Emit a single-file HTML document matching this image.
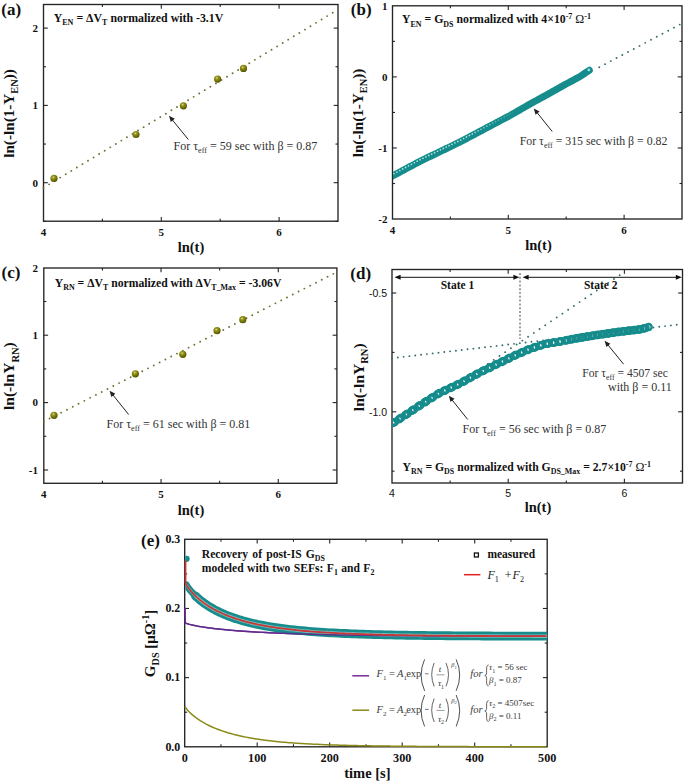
<!DOCTYPE html>
<html><head><meta charset="utf-8"><style>
html,body{margin:0;padding:0;background:#fff;width:685px;height:783px;overflow:hidden;}
svg{display:block;font-family:"Liberation Serif",serif;}
</style></head><body>
<svg width="685" height="783" viewBox="0 0 685 783"><defs><radialGradient id="gball" cx="0.4" cy="0.33" r="0.68"><stop offset="0" stop-color="#ecedb8"/><stop offset="0.2" stop-color="#a2a232"/><stop offset="0.55" stop-color="#7c7c08"/><stop offset="1" stop-color="#525200"/></radialGradient></defs>
<rect x="43.5" y="4.5" width="294.5" height="216.7" fill="none" stroke="#242424" stroke-width="1.35"/>
<line x1="161.30" y1="221.2" x2="161.30" y2="216.89999999999998" stroke="#242424" stroke-width="1.1"/>
<line x1="161.30" y1="4.5" x2="161.30" y2="8.8" stroke="#242424" stroke-width="1.1"/>
<line x1="279.10" y1="221.2" x2="279.10" y2="216.89999999999998" stroke="#242424" stroke-width="1.1"/>
<line x1="279.10" y1="4.5" x2="279.10" y2="8.8" stroke="#242424" stroke-width="1.1"/>
<line x1="102.40" y1="221.2" x2="102.40" y2="218.7" stroke="#242424" stroke-width="1.1"/>
<line x1="102.40" y1="4.5" x2="102.40" y2="7.0" stroke="#242424" stroke-width="1.1"/>
<line x1="220.20" y1="221.2" x2="220.20" y2="218.7" stroke="#242424" stroke-width="1.1"/>
<line x1="220.20" y1="4.5" x2="220.20" y2="7.0" stroke="#242424" stroke-width="1.1"/>
<line x1="43.5" y1="182.70" x2="47.8" y2="182.70" stroke="#242424" stroke-width="1.1"/>
<line x1="338" y1="182.70" x2="333.7" y2="182.70" stroke="#242424" stroke-width="1.1"/>
<line x1="43.5" y1="105.40" x2="47.8" y2="105.40" stroke="#242424" stroke-width="1.1"/>
<line x1="338" y1="105.40" x2="333.7" y2="105.40" stroke="#242424" stroke-width="1.1"/>
<line x1="43.5" y1="28.10" x2="47.8" y2="28.10" stroke="#242424" stroke-width="1.1"/>
<line x1="338" y1="28.10" x2="333.7" y2="28.10" stroke="#242424" stroke-width="1.1"/>
<line x1="43.5" y1="221.35" x2="46.0" y2="221.35" stroke="#242424" stroke-width="1.1"/>
<line x1="338" y1="221.35" x2="335.5" y2="221.35" stroke="#242424" stroke-width="1.1"/>
<line x1="43.5" y1="144.05" x2="46.0" y2="144.05" stroke="#242424" stroke-width="1.1"/>
<line x1="338" y1="144.05" x2="335.5" y2="144.05" stroke="#242424" stroke-width="1.1"/>
<line x1="43.5" y1="66.75" x2="46.0" y2="66.75" stroke="#242424" stroke-width="1.1"/>
<line x1="338" y1="66.75" x2="335.5" y2="66.75" stroke="#242424" stroke-width="1.1"/>
<text x="43.5" y="235.6" font-family="Liberation Serif, serif" font-size="11" font-weight="bold" text-anchor="middle" fill="#111" ><tspan dy="0.00" font-size="11.00" >4</tspan></text>
<text x="161.3" y="235.6" font-family="Liberation Serif, serif" font-size="11" font-weight="bold" text-anchor="middle" fill="#111" ><tspan dy="0.00" font-size="11.00" >5</tspan></text>
<text x="279.1" y="235.6" font-family="Liberation Serif, serif" font-size="11" font-weight="bold" text-anchor="middle" fill="#111" ><tspan dy="0.00" font-size="11.00" >6</tspan></text>
<text x="38" y="186.5" font-family="Liberation Serif, serif" font-size="11" font-weight="bold" text-anchor="end" fill="#111" ><tspan dy="0.00" font-size="11.00" >0</tspan></text>
<text x="38" y="109.19999999999999" font-family="Liberation Serif, serif" font-size="11" font-weight="bold" text-anchor="end" fill="#111" ><tspan dy="0.00" font-size="11.00" >1</tspan></text>
<text x="38" y="31.899999999999995" font-family="Liberation Serif, serif" font-size="11" font-weight="bold" text-anchor="end" fill="#111" ><tspan dy="0.00" font-size="11.00" >2</tspan></text>
<text x="1.3" y="14.5" font-family="Liberation Serif, serif" font-size="17" font-weight="bold" text-anchor="start" fill="#111" ><tspan dy="0.00" font-size="17.00" >(a)</tspan></text>
<text x="191" y="251.5" font-family="Liberation Serif, serif" font-size="14.5" font-weight="bold" text-anchor="middle" fill="#111" ><tspan dy="0.00" font-size="14.50" >ln(t)</tspan></text>
<text x="0" y="0" font-family="Liberation Serif, serif" font-size="15.2" font-weight="bold" text-anchor="middle" fill="#111" transform="translate(13.6,113.5) rotate(-90)"><tspan dy="0.00" font-size="15.20" >ln(-ln(1-Y</tspan><tspan dy="4.26" font-size="10.34" >EN</tspan><tspan dy="-4.26" font-size="15.20" >))</tspan></text>
<circle cx="43.50" cy="187.70" r="0.95" fill="#6e6e30"/>
<circle cx="49.06" cy="184.34" r="0.95" fill="#6e6e30"/>
<circle cx="54.62" cy="180.97" r="0.95" fill="#6e6e30"/>
<circle cx="60.18" cy="177.61" r="0.95" fill="#6e6e30"/>
<circle cx="65.75" cy="174.24" r="0.95" fill="#6e6e30"/>
<circle cx="71.31" cy="170.88" r="0.95" fill="#6e6e30"/>
<circle cx="76.87" cy="167.51" r="0.95" fill="#6e6e30"/>
<circle cx="82.43" cy="164.15" r="0.95" fill="#6e6e30"/>
<circle cx="87.99" cy="160.79" r="0.95" fill="#6e6e30"/>
<circle cx="93.55" cy="157.42" r="0.95" fill="#6e6e30"/>
<circle cx="99.12" cy="154.06" r="0.95" fill="#6e6e30"/>
<circle cx="104.68" cy="150.69" r="0.95" fill="#6e6e30"/>
<circle cx="110.24" cy="147.33" r="0.95" fill="#6e6e30"/>
<circle cx="115.80" cy="143.96" r="0.95" fill="#6e6e30"/>
<circle cx="121.36" cy="140.60" r="0.95" fill="#6e6e30"/>
<circle cx="126.92" cy="137.24" r="0.95" fill="#6e6e30"/>
<circle cx="132.49" cy="133.87" r="0.95" fill="#6e6e30"/>
<circle cx="138.05" cy="130.51" r="0.95" fill="#6e6e30"/>
<circle cx="143.61" cy="127.14" r="0.95" fill="#6e6e30"/>
<circle cx="149.17" cy="123.78" r="0.95" fill="#6e6e30"/>
<circle cx="154.73" cy="120.41" r="0.95" fill="#6e6e30"/>
<circle cx="160.29" cy="117.05" r="0.95" fill="#6e6e30"/>
<circle cx="165.86" cy="113.69" r="0.95" fill="#6e6e30"/>
<circle cx="171.42" cy="110.32" r="0.95" fill="#6e6e30"/>
<circle cx="176.98" cy="106.96" r="0.95" fill="#6e6e30"/>
<circle cx="182.54" cy="103.59" r="0.95" fill="#6e6e30"/>
<circle cx="188.10" cy="100.23" r="0.95" fill="#6e6e30"/>
<circle cx="193.66" cy="96.86" r="0.95" fill="#6e6e30"/>
<circle cx="199.23" cy="93.50" r="0.95" fill="#6e6e30"/>
<circle cx="204.79" cy="90.14" r="0.95" fill="#6e6e30"/>
<circle cx="210.35" cy="86.77" r="0.95" fill="#6e6e30"/>
<circle cx="215.91" cy="83.41" r="0.95" fill="#6e6e30"/>
<circle cx="221.47" cy="80.04" r="0.95" fill="#6e6e30"/>
<circle cx="227.03" cy="76.68" r="0.95" fill="#6e6e30"/>
<circle cx="232.59" cy="73.31" r="0.95" fill="#6e6e30"/>
<circle cx="238.16" cy="69.95" r="0.95" fill="#6e6e30"/>
<circle cx="243.72" cy="66.59" r="0.95" fill="#6e6e30"/>
<circle cx="249.28" cy="63.22" r="0.95" fill="#6e6e30"/>
<circle cx="254.84" cy="59.86" r="0.95" fill="#6e6e30"/>
<circle cx="260.40" cy="56.49" r="0.95" fill="#6e6e30"/>
<circle cx="265.96" cy="53.13" r="0.95" fill="#6e6e30"/>
<circle cx="271.53" cy="49.76" r="0.95" fill="#6e6e30"/>
<circle cx="277.09" cy="46.40" r="0.95" fill="#6e6e30"/>
<circle cx="282.65" cy="43.04" r="0.95" fill="#6e6e30"/>
<circle cx="288.21" cy="39.67" r="0.95" fill="#6e6e30"/>
<circle cx="293.77" cy="36.31" r="0.95" fill="#6e6e30"/>
<circle cx="299.33" cy="32.94" r="0.95" fill="#6e6e30"/>
<circle cx="304.90" cy="29.58" r="0.95" fill="#6e6e30"/>
<circle cx="310.46" cy="26.21" r="0.95" fill="#6e6e30"/>
<circle cx="316.02" cy="22.85" r="0.95" fill="#6e6e30"/>
<circle cx="321.58" cy="19.49" r="0.95" fill="#6e6e30"/>
<circle cx="327.14" cy="16.12" r="0.95" fill="#6e6e30"/>
<circle cx="332.70" cy="12.76" r="0.95" fill="#6e6e30"/>
<circle cx="54" cy="178.4" r="3.6" fill="url(#gball)"/>
<circle cx="136" cy="134.5" r="3.6" fill="url(#gball)"/>
<circle cx="183.4" cy="105.8" r="3.6" fill="url(#gball)"/>
<circle cx="217.6" cy="79.1" r="3.6" fill="url(#gball)"/>
<circle cx="243.5" cy="68.4" r="3.6" fill="url(#gball)"/>
<line x1="188.3" y1="139.5" x2="172.16" y2="119.68" stroke="#222" stroke-width="1.0"/>
<polygon points="169,115.8 174.80,118.81 170.77,122.09" fill="#222"/>
<text x="173.6" y="149.9" font-family="Liberation Serif, serif" font-size="12" font-weight="normal" text-anchor="start" fill="#333" ><tspan dy="0.00" font-size="12.00" >For </tspan><tspan dy="0.00" font-size="12.00" >τ</tspan><tspan dy="3.36" font-size="8.16" >eff</tspan><tspan dy="-3.36" font-size="12.00" > = 59 sec with β = 0.87</tspan></text>
<text x="53.7" y="22.1" font-family="Liberation Serif, serif" font-size="11.85" font-weight="bold" text-anchor="start" fill="#111" ><tspan dy="0.00" font-size="11.85" >Y</tspan><tspan dy="3.32" font-size="8.06" >EN</tspan><tspan dy="-3.32" font-size="11.85" > = ΔV</tspan><tspan dy="3.32" font-size="8.06" >T</tspan><tspan dy="-3.32" font-size="11.85" > normalized with -3.1V</tspan></text>
<rect x="392.5" y="5.8" width="289.5" height="213.2" fill="none" stroke="#242424" stroke-width="1.35"/>
<line x1="508.30" y1="219" x2="508.30" y2="214.7" stroke="#242424" stroke-width="1.1"/>
<line x1="508.30" y1="5.8" x2="508.30" y2="10.1" stroke="#242424" stroke-width="1.1"/>
<line x1="624.10" y1="219" x2="624.10" y2="214.7" stroke="#242424" stroke-width="1.1"/>
<line x1="624.10" y1="5.8" x2="624.10" y2="10.1" stroke="#242424" stroke-width="1.1"/>
<line x1="450.40" y1="219" x2="450.40" y2="216.5" stroke="#242424" stroke-width="1.1"/>
<line x1="450.40" y1="5.8" x2="450.40" y2="8.3" stroke="#242424" stroke-width="1.1"/>
<line x1="566.20" y1="219" x2="566.20" y2="216.5" stroke="#242424" stroke-width="1.1"/>
<line x1="566.20" y1="5.8" x2="566.20" y2="8.3" stroke="#242424" stroke-width="1.1"/>
<line x1="392.5" y1="76.90" x2="396.8" y2="76.90" stroke="#242424" stroke-width="1.1"/>
<line x1="682" y1="76.90" x2="677.7" y2="76.90" stroke="#242424" stroke-width="1.1"/>
<line x1="392.5" y1="147.97" x2="396.8" y2="147.97" stroke="#242424" stroke-width="1.1"/>
<line x1="682" y1="147.97" x2="677.7" y2="147.97" stroke="#242424" stroke-width="1.1"/>
<line x1="392.5" y1="41.37" x2="395.0" y2="41.37" stroke="#242424" stroke-width="1.1"/>
<line x1="682" y1="41.37" x2="679.5" y2="41.37" stroke="#242424" stroke-width="1.1"/>
<line x1="392.5" y1="112.44" x2="395.0" y2="112.44" stroke="#242424" stroke-width="1.1"/>
<line x1="682" y1="112.44" x2="679.5" y2="112.44" stroke="#242424" stroke-width="1.1"/>
<line x1="392.5" y1="183.50" x2="395.0" y2="183.50" stroke="#242424" stroke-width="1.1"/>
<line x1="682" y1="183.50" x2="679.5" y2="183.50" stroke="#242424" stroke-width="1.1"/>
<text x="392.5" y="233.6" font-family="Liberation Serif, serif" font-size="11" font-weight="bold" text-anchor="middle" fill="#111" ><tspan dy="0.00" font-size="11.00" >4</tspan></text>
<text x="508.3" y="233.6" font-family="Liberation Serif, serif" font-size="11" font-weight="bold" text-anchor="middle" fill="#111" ><tspan dy="0.00" font-size="11.00" >5</tspan></text>
<text x="624.1" y="233.6" font-family="Liberation Serif, serif" font-size="11" font-weight="bold" text-anchor="middle" fill="#111" ><tspan dy="0.00" font-size="11.00" >6</tspan></text>
<text x="387.5" y="9.630000000000013" font-family="Liberation Serif, serif" font-size="11" font-weight="bold" text-anchor="end" fill="#111" ><tspan dy="0.00" font-size="11.00" >1</tspan></text>
<text x="387.5" y="80.7" font-family="Liberation Serif, serif" font-size="11" font-weight="bold" text-anchor="end" fill="#111" ><tspan dy="0.00" font-size="11.00" >0</tspan></text>
<text x="387.5" y="151.77" font-family="Liberation Serif, serif" font-size="11" font-weight="bold" text-anchor="end" fill="#111" ><tspan dy="0.00" font-size="11.00" >-1</tspan></text>
<text x="387.5" y="222.84" font-family="Liberation Serif, serif" font-size="11" font-weight="bold" text-anchor="end" fill="#111" ><tspan dy="0.00" font-size="11.00" >-2</tspan></text>
<text x="350.8" y="15" font-family="Liberation Serif, serif" font-size="17" font-weight="bold" text-anchor="start" fill="#111" ><tspan dy="0.00" font-size="17.00" >(b)</tspan></text>
<text x="538.5" y="249.5" font-family="Liberation Serif, serif" font-size="14.5" font-weight="bold" text-anchor="middle" fill="#111" ><tspan dy="0.00" font-size="14.50" >ln(t)</tspan></text>
<text x="0" y="0" font-family="Liberation Serif, serif" font-size="15.2" font-weight="bold" text-anchor="middle" fill="#111" transform="translate(363.1,113) rotate(-90)"><tspan dy="0.00" font-size="15.20" >ln(-ln(1-Y</tspan><tspan dy="4.26" font-size="10.34" >EN</tspan><tspan dy="-4.26" font-size="15.20" >))</tspan></text>
<circle cx="599.30" cy="67.20" r="0.95" fill="#356a6a"/>
<circle cx="605.04" cy="64.16" r="0.95" fill="#356a6a"/>
<circle cx="610.79" cy="61.12" r="0.95" fill="#356a6a"/>
<circle cx="616.53" cy="58.07" r="0.95" fill="#356a6a"/>
<circle cx="622.28" cy="55.03" r="0.95" fill="#356a6a"/>
<circle cx="628.02" cy="51.99" r="0.95" fill="#356a6a"/>
<circle cx="633.76" cy="48.95" r="0.95" fill="#356a6a"/>
<circle cx="639.51" cy="45.90" r="0.95" fill="#356a6a"/>
<circle cx="645.25" cy="42.86" r="0.95" fill="#356a6a"/>
<circle cx="651.00" cy="39.82" r="0.95" fill="#356a6a"/>
<circle cx="656.74" cy="36.78" r="0.95" fill="#356a6a"/>
<circle cx="662.49" cy="33.74" r="0.95" fill="#356a6a"/>
<circle cx="668.23" cy="30.69" r="0.95" fill="#356a6a"/>
<circle cx="673.97" cy="27.65" r="0.95" fill="#356a6a"/>
<circle cx="679.72" cy="24.61" r="0.95" fill="#356a6a"/>
<clipPath id="clipB"><rect x="393" y="5" width="290" height="215"/></clipPath><g clip-path="url(#clipB)">
<polyline points="390,177.30 392.50,176.00 394.50,174.93 396.50,173.86 398.50,172.79 400.50,171.72 402.50,170.65 404.50,169.59 406.50,168.52 408.50,167.45 410.50,166.38 412.50,165.31 414.50,164.24 416.50,163.17 418.50,162.10 420.50,161.06 422.50,160.09 424.50,159.13 426.50,158.16 428.50,157.20 430.50,156.23 432.50,155.27 434.50,154.30 436.50,153.34 438.50,152.37 440.50,151.41 442.50,150.44 444.50,149.48 446.50,148.51 448.50,147.55 450.50,146.58 452.50,145.62 454.50,144.65 456.50,143.69 458.50,142.72 460.50,141.74 462.50,140.68 464.50,139.62 466.50,138.56 468.50,137.50 470.50,136.44 472.50,135.38 474.50,134.31 476.50,133.25 478.50,132.19 480.50,131.13 482.50,130.07 484.50,129.01 486.50,127.95 488.50,126.89 490.50,125.84 492.50,124.78 494.50,123.72 496.50,122.66 498.50,121.59 500.50,120.53 502.50,119.47 504.50,118.41 506.50,117.36 508.50,116.30 510.50,115.21 512.50,114.06 514.50,112.91 516.50,111.76 518.50,110.61 520.50,109.46 522.50,108.31 524.50,107.16 526.50,106.01 528.50,104.86 530.50,103.73 532.50,102.63 534.50,101.54 536.50,100.45 538.50,99.35 540.50,98.26 542.50,97.17 544.50,96.07 546.50,94.96 548.50,93.84 550.50,92.72 552.50,91.60 554.50,90.48 556.50,89.36 558.50,88.24 560.50,87.12 562.50,86.00 564.50,84.88 566.50,83.79 568.50,82.71 570.50,81.63 572.50,80.55 574.50,79.47 576.50,78.39 578.50,77.31 580.50,76.17 582.50,74.83 584.50,73.50 586.50,72.17 588.50,70.83 589.3,70.3" fill="none" stroke="#168c8c" stroke-width="7.0" stroke-linecap="round" stroke-linejoin="round"/>
<circle cx="394.00" cy="173.60" r="0.85" fill="#b4e4e4" opacity="1.00"/>
<circle cx="396.90" cy="172.05" r="0.85" fill="#b4e4e4" opacity="1.00"/>
<circle cx="399.80" cy="170.50" r="0.85" fill="#b4e4e4" opacity="1.00"/>
<circle cx="402.70" cy="168.95" r="0.85" fill="#b4e4e4" opacity="1.00"/>
<circle cx="405.60" cy="167.40" r="0.85" fill="#b4e4e4" opacity="1.00"/>
<circle cx="408.50" cy="165.85" r="0.85" fill="#b4e4e4" opacity="1.00"/>
<circle cx="411.40" cy="164.30" r="0.85" fill="#b4e4e4" opacity="1.00"/>
<circle cx="414.30" cy="162.75" r="0.85" fill="#b4e4e4" opacity="1.00"/>
<circle cx="417.20" cy="161.20" r="0.85" fill="#b4e4e4" opacity="1.00"/>
<circle cx="420.10" cy="159.65" r="0.85" fill="#b4e4e4" opacity="1.00"/>
<circle cx="423.00" cy="158.25" r="0.85" fill="#b4e4e4" opacity="1.00"/>
<circle cx="425.90" cy="156.85" r="0.85" fill="#b4e4e4" opacity="1.00"/>
<circle cx="428.80" cy="155.45" r="0.85" fill="#b4e4e4" opacity="1.00"/>
<circle cx="431.70" cy="154.05" r="0.85" fill="#b4e4e4" opacity="1.00"/>
<circle cx="434.60" cy="152.66" r="0.85" fill="#b4e4e4" opacity="1.00"/>
<circle cx="437.50" cy="151.26" r="0.85" fill="#b4e4e4" opacity="1.00"/>
<circle cx="440.40" cy="149.86" r="0.85" fill="#b4e4e4" opacity="1.00"/>
<circle cx="443.30" cy="148.46" r="0.85" fill="#b4e4e4" opacity="1.00"/>
<circle cx="446.20" cy="147.06" r="0.85" fill="#b4e4e4" opacity="1.00"/>
<circle cx="449.10" cy="145.66" r="0.85" fill="#b4e4e4" opacity="1.00"/>
<circle cx="452.00" cy="144.26" r="0.85" fill="#b4e4e4" opacity="1.00"/>
<circle cx="454.90" cy="142.86" r="0.85" fill="#b4e4e4" opacity="1.00"/>
<circle cx="457.80" cy="141.46" r="0.85" fill="#b4e4e4" opacity="1.00"/>
<circle cx="460.70" cy="140.03" r="0.85" fill="#b4e4e4" opacity="1.00"/>
<circle cx="463.60" cy="138.49" r="0.85" fill="#b4e4e4" opacity="1.00"/>
<circle cx="466.50" cy="136.96" r="0.85" fill="#b4e4e4" opacity="1.00"/>
<circle cx="469.40" cy="135.42" r="0.85" fill="#b4e4e4" opacity="1.00"/>
<circle cx="472.30" cy="133.88" r="0.85" fill="#b4e4e4" opacity="0.95"/>
<circle cx="475.20" cy="132.34" r="0.85" fill="#b4e4e4" opacity="0.90"/>
<circle cx="478.10" cy="130.81" r="0.85" fill="#b4e4e4" opacity="0.84"/>
<circle cx="481.00" cy="129.27" r="0.85" fill="#b4e4e4" opacity="0.78"/>
<circle cx="483.90" cy="127.73" r="0.85" fill="#b4e4e4" opacity="0.72"/>
<circle cx="486.80" cy="126.20" r="0.85" fill="#b4e4e4" opacity="0.66"/>
<circle cx="489.70" cy="124.66" r="0.85" fill="#b4e4e4" opacity="0.61"/>
<circle cx="492.60" cy="123.12" r="0.85" fill="#b4e4e4" opacity="0.55"/>
<circle cx="495.50" cy="121.59" r="0.85" fill="#b4e4e4" opacity="0.49"/>
<circle cx="498.40" cy="120.05" r="0.85" fill="#b4e4e4" opacity="0.43"/>
<circle cx="501.30" cy="118.51" r="0.85" fill="#b4e4e4" opacity="0.37"/>
<circle cx="504.20" cy="116.97" r="0.85" fill="#b4e4e4" opacity="0.32"/>
<circle cx="507.10" cy="115.44" r="0.85" fill="#b4e4e4" opacity="0.26"/>
<circle cx="510.00" cy="113.90" r="0.85" fill="#b4e4e4" opacity="0.20"/>
<circle cx="512.90" cy="112.23" r="0.85" fill="#b4e4e4" opacity="0.14"/>
<circle cx="515.80" cy="110.57" r="0.85" fill="#b4e4e4" opacity="0.08"/>
<circle cx="518.70" cy="108.90" r="0.85" fill="#b4e4e4" opacity="0.03"/>
</g>
<circle cx="588.8" cy="69.9" r="1.3" fill="#a8e2e2"/>
<line x1="552.2" y1="131.5" x2="536.92" y2="112.40" stroke="#222" stroke-width="1.0"/>
<polygon points="533.8,108.5 539.58,111.56 535.52,114.81" fill="#222"/>
<text x="519.7" y="144.7" font-family="Liberation Serif, serif" font-size="11.85" font-weight="normal" text-anchor="start" fill="#333" ><tspan dy="0.00" font-size="11.85" >For </tspan><tspan dy="0.00" font-size="11.85" >τ</tspan><tspan dy="3.32" font-size="8.06" >eff</tspan><tspan dy="-3.32" font-size="11.85" > = 315 sec with β = 0.82</tspan></text>
<text x="402" y="23.4" font-family="Liberation Serif, serif" font-size="11.75" font-weight="bold" text-anchor="start" fill="#111" ><tspan dy="0.00" font-size="11.75" >Y</tspan><tspan dy="3.29" font-size="7.99" >EN</tspan><tspan dy="-3.29" font-size="11.75" > = G</tspan><tspan dy="3.29" font-size="7.99" >DS</tspan><tspan dy="-3.29" font-size="11.75" > normalized with 4×10</tspan><tspan dy="-4.46" font-size="7.99" >-7</tspan><tspan dy="4.46" font-size="12.00" font-weight="normal"> Ω</tspan><tspan dy="-4.46" font-size="7.99" >-1</tspan></text>
<rect x="43.8" y="268" width="293.09999999999997" height="215.3" fill="none" stroke="#242424" stroke-width="1.35"/>
<line x1="161.04" y1="483.3" x2="161.04" y2="479.0" stroke="#242424" stroke-width="1.1"/>
<line x1="161.04" y1="268" x2="161.04" y2="272.3" stroke="#242424" stroke-width="1.1"/>
<line x1="278.28" y1="483.3" x2="278.28" y2="479.0" stroke="#242424" stroke-width="1.1"/>
<line x1="278.28" y1="268" x2="278.28" y2="272.3" stroke="#242424" stroke-width="1.1"/>
<line x1="102.42" y1="483.3" x2="102.42" y2="480.8" stroke="#242424" stroke-width="1.1"/>
<line x1="102.42" y1="268" x2="102.42" y2="270.5" stroke="#242424" stroke-width="1.1"/>
<line x1="219.66" y1="483.3" x2="219.66" y2="480.8" stroke="#242424" stroke-width="1.1"/>
<line x1="219.66" y1="268" x2="219.66" y2="270.5" stroke="#242424" stroke-width="1.1"/>
<line x1="43.8" y1="335.20" x2="48.099999999999994" y2="335.20" stroke="#242424" stroke-width="1.1"/>
<line x1="336.9" y1="335.20" x2="332.59999999999997" y2="335.20" stroke="#242424" stroke-width="1.1"/>
<line x1="43.8" y1="402.60" x2="48.099999999999994" y2="402.60" stroke="#242424" stroke-width="1.1"/>
<line x1="336.9" y1="402.60" x2="332.59999999999997" y2="402.60" stroke="#242424" stroke-width="1.1"/>
<line x1="43.8" y1="470.00" x2="48.099999999999994" y2="470.00" stroke="#242424" stroke-width="1.1"/>
<line x1="336.9" y1="470.00" x2="332.59999999999997" y2="470.00" stroke="#242424" stroke-width="1.1"/>
<line x1="43.8" y1="301.50" x2="46.3" y2="301.50" stroke="#242424" stroke-width="1.1"/>
<line x1="336.9" y1="301.50" x2="334.4" y2="301.50" stroke="#242424" stroke-width="1.1"/>
<line x1="43.8" y1="368.90" x2="46.3" y2="368.90" stroke="#242424" stroke-width="1.1"/>
<line x1="336.9" y1="368.90" x2="334.4" y2="368.90" stroke="#242424" stroke-width="1.1"/>
<line x1="43.8" y1="436.30" x2="46.3" y2="436.30" stroke="#242424" stroke-width="1.1"/>
<line x1="336.9" y1="436.30" x2="334.4" y2="436.30" stroke="#242424" stroke-width="1.1"/>
<text x="43.8" y="497.5" font-family="Liberation Serif, serif" font-size="11" font-weight="bold" text-anchor="middle" fill="#111" ><tspan dy="0.00" font-size="11.00" >4</tspan></text>
<text x="161.03999999999996" y="497.5" font-family="Liberation Serif, serif" font-size="11" font-weight="bold" text-anchor="middle" fill="#111" ><tspan dy="0.00" font-size="11.00" >5</tspan></text>
<text x="278.28" y="497.5" font-family="Liberation Serif, serif" font-size="11" font-weight="bold" text-anchor="middle" fill="#111" ><tspan dy="0.00" font-size="11.00" >6</tspan></text>
<text x="38" y="271.6" font-family="Liberation Serif, serif" font-size="11" font-weight="bold" text-anchor="end" fill="#111" ><tspan dy="0.00" font-size="11.00" >2</tspan></text>
<text x="38" y="339.00000000000006" font-family="Liberation Serif, serif" font-size="11" font-weight="bold" text-anchor="end" fill="#111" ><tspan dy="0.00" font-size="11.00" >1</tspan></text>
<text x="38" y="406.40000000000003" font-family="Liberation Serif, serif" font-size="11" font-weight="bold" text-anchor="end" fill="#111" ><tspan dy="0.00" font-size="11.00" >0</tspan></text>
<text x="38" y="473.8" font-family="Liberation Serif, serif" font-size="11" font-weight="bold" text-anchor="end" fill="#111" ><tspan dy="0.00" font-size="11.00" >-1</tspan></text>
<text x="1.5" y="278" font-family="Liberation Serif, serif" font-size="17" font-weight="bold" text-anchor="start" fill="#111" ><tspan dy="0.00" font-size="17.00" >(c)</tspan></text>
<text x="191" y="514.5" font-family="Liberation Serif, serif" font-size="14.5" font-weight="bold" text-anchor="middle" fill="#111" ><tspan dy="0.00" font-size="14.50" >ln(t)</tspan></text>
<text x="0" y="0" font-family="Liberation Serif, serif" font-size="15.5" font-weight="bold" text-anchor="middle" fill="#111" transform="translate(14.3,376.1) rotate(-90)"><tspan dy="0.00" font-size="15.50" >ln(-lnY</tspan><tspan dy="4.34" font-size="10.54" >RN</tspan><tspan dy="-4.34" font-size="15.50" >)</tspan></text>
<circle cx="43.80" cy="421.50" r="0.95" fill="#6e6e30"/>
<circle cx="49.59" cy="418.55" r="0.95" fill="#6e6e30"/>
<circle cx="55.38" cy="415.59" r="0.95" fill="#6e6e30"/>
<circle cx="61.17" cy="412.64" r="0.95" fill="#6e6e30"/>
<circle cx="66.96" cy="409.69" r="0.95" fill="#6e6e30"/>
<circle cx="72.75" cy="406.73" r="0.95" fill="#6e6e30"/>
<circle cx="78.54" cy="403.78" r="0.95" fill="#6e6e30"/>
<circle cx="84.33" cy="400.83" r="0.95" fill="#6e6e30"/>
<circle cx="90.12" cy="397.87" r="0.95" fill="#6e6e30"/>
<circle cx="95.91" cy="394.92" r="0.95" fill="#6e6e30"/>
<circle cx="101.70" cy="391.97" r="0.95" fill="#6e6e30"/>
<circle cx="107.49" cy="389.02" r="0.95" fill="#6e6e30"/>
<circle cx="113.28" cy="386.06" r="0.95" fill="#6e6e30"/>
<circle cx="119.08" cy="383.11" r="0.95" fill="#6e6e30"/>
<circle cx="124.87" cy="380.16" r="0.95" fill="#6e6e30"/>
<circle cx="130.66" cy="377.20" r="0.95" fill="#6e6e30"/>
<circle cx="136.45" cy="374.25" r="0.95" fill="#6e6e30"/>
<circle cx="142.24" cy="371.30" r="0.95" fill="#6e6e30"/>
<circle cx="148.03" cy="368.34" r="0.95" fill="#6e6e30"/>
<circle cx="153.82" cy="365.39" r="0.95" fill="#6e6e30"/>
<circle cx="159.61" cy="362.44" r="0.95" fill="#6e6e30"/>
<circle cx="165.40" cy="359.48" r="0.95" fill="#6e6e30"/>
<circle cx="171.19" cy="356.53" r="0.95" fill="#6e6e30"/>
<circle cx="176.98" cy="353.58" r="0.95" fill="#6e6e30"/>
<circle cx="182.77" cy="350.62" r="0.95" fill="#6e6e30"/>
<circle cx="188.56" cy="347.67" r="0.95" fill="#6e6e30"/>
<circle cx="194.35" cy="344.72" r="0.95" fill="#6e6e30"/>
<circle cx="200.14" cy="341.76" r="0.95" fill="#6e6e30"/>
<circle cx="205.93" cy="338.81" r="0.95" fill="#6e6e30"/>
<circle cx="211.72" cy="335.86" r="0.95" fill="#6e6e30"/>
<circle cx="217.51" cy="332.91" r="0.95" fill="#6e6e30"/>
<circle cx="223.30" cy="329.95" r="0.95" fill="#6e6e30"/>
<circle cx="229.09" cy="327.00" r="0.95" fill="#6e6e30"/>
<circle cx="234.88" cy="324.05" r="0.95" fill="#6e6e30"/>
<circle cx="240.67" cy="321.09" r="0.95" fill="#6e6e30"/>
<circle cx="246.46" cy="318.14" r="0.95" fill="#6e6e30"/>
<circle cx="252.25" cy="315.19" r="0.95" fill="#6e6e30"/>
<circle cx="258.05" cy="312.23" r="0.95" fill="#6e6e30"/>
<circle cx="263.84" cy="309.28" r="0.95" fill="#6e6e30"/>
<circle cx="269.63" cy="306.33" r="0.95" fill="#6e6e30"/>
<circle cx="275.42" cy="303.37" r="0.95" fill="#6e6e30"/>
<circle cx="281.21" cy="300.42" r="0.95" fill="#6e6e30"/>
<circle cx="287.00" cy="297.47" r="0.95" fill="#6e6e30"/>
<circle cx="292.79" cy="294.51" r="0.95" fill="#6e6e30"/>
<circle cx="298.58" cy="291.56" r="0.95" fill="#6e6e30"/>
<circle cx="304.37" cy="288.61" r="0.95" fill="#6e6e30"/>
<circle cx="310.16" cy="285.66" r="0.95" fill="#6e6e30"/>
<circle cx="315.95" cy="282.70" r="0.95" fill="#6e6e30"/>
<circle cx="321.74" cy="279.75" r="0.95" fill="#6e6e30"/>
<circle cx="327.53" cy="276.80" r="0.95" fill="#6e6e30"/>
<circle cx="333.32" cy="273.84" r="0.95" fill="#6e6e30"/>
<circle cx="54" cy="415.3" r="3.6" fill="url(#gball)"/>
<circle cx="135.4" cy="373.8" r="3.6" fill="url(#gball)"/>
<circle cx="182.8" cy="354.3" r="3.6" fill="url(#gball)"/>
<circle cx="217" cy="330.7" r="3.6" fill="url(#gball)"/>
<circle cx="242.8" cy="319.7" r="3.6" fill="url(#gball)"/>
<line x1="128.6" y1="414.5" x2="112.73" y2="394.70" stroke="#222" stroke-width="1.0"/>
<polygon points="109.6,390.8 115.38,393.86 111.32,397.11" fill="#222"/>
<text x="106.6" y="427.8" font-family="Liberation Serif, serif" font-size="12" font-weight="normal" text-anchor="start" fill="#333" ><tspan dy="0.00" font-size="12.00" >For </tspan><tspan dy="0.00" font-size="12.00" >τ</tspan><tspan dy="3.36" font-size="8.16" >eff</tspan><tspan dy="-3.36" font-size="12.00" > = 61 sec with β = 0.81</tspan></text>
<text x="54.7" y="286.5" font-family="Liberation Serif, serif" font-size="11.7" font-weight="bold" text-anchor="start" fill="#111" ><tspan dy="0.00" font-size="11.70" >Y</tspan><tspan dy="3.28" font-size="7.96" >RN</tspan><tspan dy="-3.28" font-size="11.70" > = ΔV</tspan><tspan dy="3.28" font-size="7.96" >T</tspan><tspan dy="-3.28" font-size="11.70" > normalized with ΔV</tspan><tspan dy="3.28" font-size="7.96" >T_Max</tspan><tspan dy="-3.28" font-size="11.70" > = -3.06V</tspan></text>
<rect x="392" y="269.5" width="290.5" height="213.5" fill="none" stroke="#242424" stroke-width="1.35"/>
<line x1="508.20" y1="483" x2="508.20" y2="478.7" stroke="#242424" stroke-width="1.1"/>
<line x1="508.20" y1="269.5" x2="508.20" y2="273.8" stroke="#242424" stroke-width="1.1"/>
<line x1="624.40" y1="483" x2="624.40" y2="478.7" stroke="#242424" stroke-width="1.1"/>
<line x1="624.40" y1="269.5" x2="624.40" y2="273.8" stroke="#242424" stroke-width="1.1"/>
<line x1="450.10" y1="483" x2="450.10" y2="480.5" stroke="#242424" stroke-width="1.1"/>
<line x1="450.10" y1="269.5" x2="450.10" y2="272.0" stroke="#242424" stroke-width="1.1"/>
<line x1="566.30" y1="483" x2="566.30" y2="480.5" stroke="#242424" stroke-width="1.1"/>
<line x1="566.30" y1="269.5" x2="566.30" y2="272.0" stroke="#242424" stroke-width="1.1"/>
<line x1="392" y1="293.00" x2="396.3" y2="293.00" stroke="#242424" stroke-width="1.1"/>
<line x1="682.5" y1="293.00" x2="678.2" y2="293.00" stroke="#242424" stroke-width="1.1"/>
<line x1="392" y1="411.80" x2="396.3" y2="411.80" stroke="#242424" stroke-width="1.1"/>
<line x1="682.5" y1="411.80" x2="678.2" y2="411.80" stroke="#242424" stroke-width="1.1"/>
<line x1="392" y1="352.40" x2="394.5" y2="352.40" stroke="#242424" stroke-width="1.1"/>
<line x1="682.5" y1="352.40" x2="680.0" y2="352.40" stroke="#242424" stroke-width="1.1"/>
<line x1="392" y1="471.20" x2="394.5" y2="471.20" stroke="#242424" stroke-width="1.1"/>
<line x1="682.5" y1="471.20" x2="680.0" y2="471.20" stroke="#242424" stroke-width="1.1"/>
<text x="392.0" y="496.5" font-family="Liberation Sans, sans-serif" font-size="10.5" font-weight="normal" text-anchor="middle" fill="#111" ><tspan dy="0.00" font-size="10.50" >4</tspan></text>
<text x="508.2" y="496.5" font-family="Liberation Sans, sans-serif" font-size="10.5" font-weight="normal" text-anchor="middle" fill="#111" ><tspan dy="0.00" font-size="10.50" >5</tspan></text>
<text x="624.4" y="496.5" font-family="Liberation Sans, sans-serif" font-size="10.5" font-weight="normal" text-anchor="middle" fill="#111" ><tspan dy="0.00" font-size="10.50" >6</tspan></text>
<text x="387" y="296.8" font-family="Liberation Sans, sans-serif" font-size="10.5" font-weight="normal" text-anchor="end" fill="#111" ><tspan dy="0.00" font-size="10.50" >-0.5</tspan></text>
<text x="387" y="415.6" font-family="Liberation Sans, sans-serif" font-size="10.5" font-weight="normal" text-anchor="end" fill="#111" ><tspan dy="0.00" font-size="10.50" >-1.0</tspan></text>
<text x="350.3" y="278.6" font-family="Liberation Serif, serif" font-size="17" font-weight="bold" text-anchor="start" fill="#111" ><tspan dy="0.00" font-size="17.00" >(d)</tspan></text>
<text x="538" y="512" font-family="Liberation Serif, serif" font-size="14.5" font-weight="bold" text-anchor="middle" fill="#111" ><tspan dy="0.00" font-size="14.50" >ln(t)</tspan></text>
<text x="0" y="0" font-family="Liberation Serif, serif" font-size="15.5" font-weight="bold" text-anchor="middle" fill="#111" transform="translate(363.8,377.3) rotate(-90)"><tspan dy="0.00" font-size="15.50" >ln(-lnY</tspan><tspan dy="4.34" font-size="10.54" >RN</tspan><tspan dy="-4.34" font-size="15.50" >)</tspan></text>
<circle cx="392.00" cy="358.20" r="0.95" fill="#356a6a"/>
<circle cx="397.81" cy="357.52" r="0.95" fill="#356a6a"/>
<circle cx="403.62" cy="356.83" r="0.95" fill="#356a6a"/>
<circle cx="409.43" cy="356.15" r="0.95" fill="#356a6a"/>
<circle cx="415.24" cy="355.47" r="0.95" fill="#356a6a"/>
<circle cx="421.05" cy="354.78" r="0.95" fill="#356a6a"/>
<circle cx="426.86" cy="354.10" r="0.95" fill="#356a6a"/>
<circle cx="432.67" cy="353.42" r="0.95" fill="#356a6a"/>
<circle cx="438.48" cy="352.73" r="0.95" fill="#356a6a"/>
<circle cx="444.29" cy="352.05" r="0.95" fill="#356a6a"/>
<circle cx="450.10" cy="351.37" r="0.95" fill="#356a6a"/>
<circle cx="455.91" cy="350.69" r="0.95" fill="#356a6a"/>
<circle cx="461.72" cy="350.00" r="0.95" fill="#356a6a"/>
<circle cx="467.53" cy="349.32" r="0.95" fill="#356a6a"/>
<circle cx="473.34" cy="348.64" r="0.95" fill="#356a6a"/>
<circle cx="479.15" cy="347.95" r="0.95" fill="#356a6a"/>
<circle cx="484.96" cy="347.27" r="0.95" fill="#356a6a"/>
<circle cx="490.77" cy="346.59" r="0.95" fill="#356a6a"/>
<circle cx="496.58" cy="345.90" r="0.95" fill="#356a6a"/>
<circle cx="502.39" cy="345.22" r="0.95" fill="#356a6a"/>
<circle cx="508.20" cy="344.54" r="0.95" fill="#356a6a"/>
<circle cx="514.01" cy="343.85" r="0.95" fill="#356a6a"/>
<circle cx="519.82" cy="343.17" r="0.95" fill="#356a6a"/>
<circle cx="525.63" cy="342.49" r="0.95" fill="#356a6a"/>
<circle cx="531.44" cy="341.80" r="0.95" fill="#356a6a"/>
<circle cx="537.25" cy="341.12" r="0.95" fill="#356a6a"/>
<circle cx="543.06" cy="340.44" r="0.95" fill="#356a6a"/>
<circle cx="548.87" cy="339.75" r="0.95" fill="#356a6a"/>
<circle cx="554.68" cy="339.07" r="0.95" fill="#356a6a"/>
<circle cx="560.49" cy="338.39" r="0.95" fill="#356a6a"/>
<circle cx="566.30" cy="337.70" r="0.95" fill="#356a6a"/>
<circle cx="572.11" cy="337.02" r="0.95" fill="#356a6a"/>
<circle cx="577.92" cy="336.34" r="0.95" fill="#356a6a"/>
<circle cx="583.73" cy="335.66" r="0.95" fill="#356a6a"/>
<circle cx="589.54" cy="334.97" r="0.95" fill="#356a6a"/>
<circle cx="595.35" cy="334.29" r="0.95" fill="#356a6a"/>
<circle cx="601.16" cy="333.61" r="0.95" fill="#356a6a"/>
<circle cx="606.97" cy="332.92" r="0.95" fill="#356a6a"/>
<circle cx="612.78" cy="332.24" r="0.95" fill="#356a6a"/>
<circle cx="618.59" cy="331.56" r="0.95" fill="#356a6a"/>
<circle cx="624.40" cy="330.87" r="0.95" fill="#356a6a"/>
<circle cx="630.21" cy="330.19" r="0.95" fill="#356a6a"/>
<circle cx="636.02" cy="329.51" r="0.95" fill="#356a6a"/>
<circle cx="641.83" cy="328.82" r="0.95" fill="#356a6a"/>
<circle cx="647.64" cy="328.14" r="0.95" fill="#356a6a"/>
<circle cx="653.45" cy="327.46" r="0.95" fill="#356a6a"/>
<circle cx="659.26" cy="326.77" r="0.95" fill="#356a6a"/>
<circle cx="665.07" cy="326.09" r="0.95" fill="#356a6a"/>
<circle cx="670.88" cy="325.41" r="0.95" fill="#356a6a"/>
<circle cx="676.69" cy="324.72" r="0.95" fill="#356a6a"/>
<circle cx="488.00" cy="363.70" r="0.95" fill="#356a6a"/>
<circle cx="493.73" cy="359.85" r="0.95" fill="#356a6a"/>
<circle cx="499.45" cy="356.00" r="0.95" fill="#356a6a"/>
<circle cx="505.18" cy="352.15" r="0.95" fill="#356a6a"/>
<circle cx="510.90" cy="348.30" r="0.95" fill="#356a6a"/>
<circle cx="516.63" cy="344.45" r="0.95" fill="#356a6a"/>
<circle cx="522.35" cy="340.60" r="0.95" fill="#356a6a"/>
<circle cx="528.08" cy="336.75" r="0.95" fill="#356a6a"/>
<circle cx="533.81" cy="332.90" r="0.95" fill="#356a6a"/>
<circle cx="539.53" cy="329.05" r="0.95" fill="#356a6a"/>
<circle cx="545.26" cy="325.20" r="0.95" fill="#356a6a"/>
<circle cx="550.98" cy="321.34" r="0.95" fill="#356a6a"/>
<circle cx="556.71" cy="317.49" r="0.95" fill="#356a6a"/>
<circle cx="562.43" cy="313.64" r="0.95" fill="#356a6a"/>
<circle cx="568.16" cy="309.79" r="0.95" fill="#356a6a"/>
<circle cx="573.89" cy="305.94" r="0.95" fill="#356a6a"/>
<circle cx="579.61" cy="302.09" r="0.95" fill="#356a6a"/>
<circle cx="585.34" cy="298.24" r="0.95" fill="#356a6a"/>
<circle cx="591.06" cy="294.39" r="0.95" fill="#356a6a"/>
<circle cx="596.79" cy="290.54" r="0.95" fill="#356a6a"/>
<circle cx="602.51" cy="286.69" r="0.95" fill="#356a6a"/>
<circle cx="608.24" cy="282.84" r="0.95" fill="#356a6a"/>
<circle cx="613.97" cy="278.99" r="0.95" fill="#356a6a"/>
<circle cx="619.69" cy="275.14" r="0.95" fill="#356a6a"/>
<line x1="520" y1="273" x2="520" y2="339" stroke="#555" stroke-width="1.1" stroke-dasharray="2,1.8"/>
<line x1="396" y1="277.3" x2="514" y2="277.3" stroke="#111" stroke-width="1"/>
<polygon points="394.6,277.3 400.6,274.8 400.6,279.8" fill="#111"/>
<polygon points="519.4,277.3 513.4,274.8 513.4,279.8" fill="#111"/>
<line x1="527" y1="277.3" x2="678" y2="277.3" stroke="#111" stroke-width="1"/>
<polygon points="522.6,277.3 528.6,274.8 528.6,279.8" fill="#111"/>
<polygon points="681.8,277.3 675.8,274.8 675.8,279.8" fill="#111"/>
<text x="457.5" y="288.6" font-family="Liberation Serif, serif" font-size="11.5" font-weight="bold" text-anchor="middle" fill="#111" ><tspan dy="0.00" font-size="11.50" >State 1</tspan></text>
<text x="600.7" y="288.6" font-family="Liberation Serif, serif" font-size="11.5" font-weight="bold" text-anchor="middle" fill="#111" ><tspan dy="0.00" font-size="11.50" >State 2</tspan></text>
<clipPath id="clipD"><rect x="392.6" y="270" width="290" height="213"/></clipPath><g clip-path="url(#clipD)">
<circle cx="392.60" cy="423.00" r="3.05" fill="none" stroke="#168c8c" stroke-width="2.4"/>
<circle cx="393.65" cy="422.58" r="3.05" fill="none" stroke="#168c8c" stroke-width="2.4"/>
<circle cx="394.70" cy="421.91" r="3.05" fill="none" stroke="#168c8c" stroke-width="2.4"/>
<circle cx="399.00" cy="419.14" r="3.05" fill="none" stroke="#168c8c" stroke-width="2.4"/>
<circle cx="400.05" cy="418.47" r="3.05" fill="none" stroke="#168c8c" stroke-width="2.4"/>
<circle cx="401.10" cy="417.79" r="3.05" fill="none" stroke="#168c8c" stroke-width="2.4"/>
<circle cx="405.40" cy="415.03" r="3.05" fill="none" stroke="#168c8c" stroke-width="2.4"/>
<circle cx="406.45" cy="414.35" r="3.05" fill="none" stroke="#168c8c" stroke-width="2.4"/>
<circle cx="407.50" cy="413.67" r="3.05" fill="none" stroke="#168c8c" stroke-width="2.4"/>
<circle cx="411.80" cy="410.80" r="3.05" fill="none" stroke="#168c8c" stroke-width="2.4"/>
<circle cx="412.85" cy="410.10" r="3.05" fill="none" stroke="#168c8c" stroke-width="2.4"/>
<circle cx="413.90" cy="409.40" r="3.05" fill="none" stroke="#168c8c" stroke-width="2.4"/>
<circle cx="418.20" cy="406.53" r="3.05" fill="none" stroke="#168c8c" stroke-width="2.4"/>
<circle cx="419.25" cy="405.83" r="3.05" fill="none" stroke="#168c8c" stroke-width="2.4"/>
<circle cx="420.30" cy="405.13" r="3.05" fill="none" stroke="#168c8c" stroke-width="2.4"/>
<circle cx="424.60" cy="402.37" r="3.05" fill="none" stroke="#168c8c" stroke-width="2.4"/>
<circle cx="425.65" cy="401.71" r="3.05" fill="none" stroke="#168c8c" stroke-width="2.4"/>
<circle cx="426.70" cy="401.05" r="3.05" fill="none" stroke="#168c8c" stroke-width="2.4"/>
<circle cx="431.00" cy="398.35" r="3.05" fill="none" stroke="#168c8c" stroke-width="2.4"/>
<circle cx="432.05" cy="397.69" r="3.05" fill="none" stroke="#168c8c" stroke-width="2.4"/>
<circle cx="433.10" cy="397.03" r="3.05" fill="none" stroke="#168c8c" stroke-width="2.4"/>
<circle cx="437.40" cy="394.33" r="3.05" fill="none" stroke="#168c8c" stroke-width="2.4"/>
<circle cx="438.45" cy="393.67" r="3.05" fill="none" stroke="#168c8c" stroke-width="2.4"/>
<circle cx="439.50" cy="393.01" r="3.05" fill="none" stroke="#168c8c" stroke-width="2.4"/>
<circle cx="443.80" cy="390.93" r="3.05" fill="none" stroke="#168c8c" stroke-width="2.4"/>
<circle cx="444.85" cy="390.44" r="3.05" fill="none" stroke="#168c8c" stroke-width="2.4"/>
<circle cx="445.90" cy="389.96" r="3.05" fill="none" stroke="#168c8c" stroke-width="2.4"/>
<circle cx="450.20" cy="387.96" r="3.05" fill="none" stroke="#168c8c" stroke-width="2.4"/>
<circle cx="451.25" cy="387.47" r="3.05" fill="none" stroke="#168c8c" stroke-width="2.4"/>
<circle cx="452.30" cy="386.98" r="3.05" fill="none" stroke="#168c8c" stroke-width="2.4"/>
<circle cx="456.60" cy="384.98" r="3.05" fill="none" stroke="#168c8c" stroke-width="2.4"/>
<circle cx="457.65" cy="384.49" r="3.05" fill="none" stroke="#168c8c" stroke-width="2.4"/>
<circle cx="458.70" cy="384.00" r="3.05" fill="none" stroke="#168c8c" stroke-width="2.4"/>
<circle cx="463.00" cy="381.74" r="3.05" fill="none" stroke="#168c8c" stroke-width="2.4"/>
<circle cx="464.05" cy="381.15" r="3.05" fill="none" stroke="#168c8c" stroke-width="2.4"/>
<circle cx="465.10" cy="380.57" r="3.05" fill="none" stroke="#168c8c" stroke-width="2.4"/>
<circle cx="469.40" cy="378.18" r="3.05" fill="none" stroke="#168c8c" stroke-width="2.4"/>
<circle cx="470.45" cy="377.60" r="3.05" fill="none" stroke="#168c8c" stroke-width="2.4"/>
<circle cx="471.50" cy="377.02" r="3.05" fill="none" stroke="#168c8c" stroke-width="2.4"/>
<circle cx="475.80" cy="374.63" r="3.05" fill="none" stroke="#168c8c" stroke-width="2.4"/>
<circle cx="476.85" cy="374.05" r="3.05" fill="none" stroke="#168c8c" stroke-width="2.4"/>
<circle cx="477.90" cy="373.47" r="3.05" fill="none" stroke="#168c8c" stroke-width="2.4"/>
<circle cx="482.20" cy="371.24" r="3.05" fill="none" stroke="#168c8c" stroke-width="2.4"/>
<circle cx="483.25" cy="370.73" r="3.05" fill="none" stroke="#168c8c" stroke-width="2.4"/>
<circle cx="484.30" cy="370.22" r="3.05" fill="none" stroke="#168c8c" stroke-width="2.4"/>
<circle cx="488.60" cy="368.15" r="3.05" fill="none" stroke="#168c8c" stroke-width="2.4"/>
<circle cx="489.65" cy="367.64" r="3.05" fill="none" stroke="#168c8c" stroke-width="2.4"/>
<circle cx="490.70" cy="367.13" r="3.05" fill="none" stroke="#168c8c" stroke-width="2.4"/>
<circle cx="495.00" cy="365.06" r="3.05" fill="none" stroke="#168c8c" stroke-width="2.4"/>
<circle cx="496.05" cy="364.55" r="3.05" fill="none" stroke="#168c8c" stroke-width="2.4"/>
<circle cx="497.10" cy="364.04" r="3.05" fill="none" stroke="#168c8c" stroke-width="2.4"/>
<circle cx="501.40" cy="361.97" r="3.05" fill="none" stroke="#168c8c" stroke-width="2.4"/>
<circle cx="502.45" cy="361.46" r="3.05" fill="none" stroke="#168c8c" stroke-width="2.4"/>
<circle cx="503.50" cy="360.95" r="3.05" fill="none" stroke="#168c8c" stroke-width="2.4"/>
<circle cx="507.80" cy="358.88" r="3.05" fill="none" stroke="#168c8c" stroke-width="2.4"/>
<circle cx="508.85" cy="358.37" r="3.05" fill="none" stroke="#168c8c" stroke-width="2.4"/>
<circle cx="509.90" cy="357.86" r="3.05" fill="none" stroke="#168c8c" stroke-width="2.4"/>
<circle cx="514.20" cy="355.79" r="3.05" fill="none" stroke="#168c8c" stroke-width="2.4"/>
<circle cx="515.25" cy="355.29" r="3.05" fill="none" stroke="#168c8c" stroke-width="2.4"/>
<circle cx="516.30" cy="354.83" r="3.05" fill="none" stroke="#168c8c" stroke-width="2.4"/>
<circle cx="520.60" cy="352.94" r="3.05" fill="none" stroke="#168c8c" stroke-width="2.4"/>
<circle cx="521.65" cy="352.47" r="3.05" fill="none" stroke="#168c8c" stroke-width="2.4"/>
<circle cx="522.70" cy="352.01" r="3.05" fill="none" stroke="#168c8c" stroke-width="2.4"/>
<circle cx="527.00" cy="350.12" r="3.05" fill="none" stroke="#168c8c" stroke-width="2.4"/>
<circle cx="528.05" cy="349.66" r="3.05" fill="none" stroke="#168c8c" stroke-width="2.4"/>
<circle cx="529.10" cy="349.20" r="3.05" fill="none" stroke="#168c8c" stroke-width="2.4"/>
<circle cx="533.40" cy="347.71" r="3.05" fill="none" stroke="#168c8c" stroke-width="2.4"/>
<circle cx="534.45" cy="347.38" r="3.05" fill="none" stroke="#168c8c" stroke-width="2.4"/>
<circle cx="535.50" cy="347.04" r="3.05" fill="none" stroke="#168c8c" stroke-width="2.4"/>
<circle cx="539.80" cy="345.66" r="3.05" fill="none" stroke="#168c8c" stroke-width="2.4"/>
<circle cx="540.85" cy="345.33" r="3.05" fill="none" stroke="#168c8c" stroke-width="2.4"/>
<circle cx="541.90" cy="344.99" r="3.05" fill="none" stroke="#168c8c" stroke-width="2.4"/>
<circle cx="546.20" cy="343.80" r="3.05" fill="none" stroke="#168c8c" stroke-width="2.4"/>
<circle cx="547.25" cy="343.63" r="3.05" fill="none" stroke="#168c8c" stroke-width="2.4"/>
<circle cx="548.30" cy="343.45" r="3.05" fill="none" stroke="#168c8c" stroke-width="2.4"/>
<circle cx="552.60" cy="342.73" r="3.05" fill="none" stroke="#168c8c" stroke-width="2.4"/>
<circle cx="553.65" cy="342.56" r="3.05" fill="none" stroke="#168c8c" stroke-width="2.4"/>
<circle cx="554.70" cy="342.38" r="3.05" fill="none" stroke="#168c8c" stroke-width="2.4"/>
<circle cx="559.00" cy="341.67" r="3.05" fill="none" stroke="#168c8c" stroke-width="2.4"/>
<circle cx="560.05" cy="341.49" r="3.05" fill="none" stroke="#168c8c" stroke-width="2.4"/>
<circle cx="561.10" cy="341.29" r="3.05" fill="none" stroke="#168c8c" stroke-width="2.4"/>
<circle cx="565.40" cy="340.46" r="3.05" fill="none" stroke="#168c8c" stroke-width="2.4"/>
<circle cx="566.45" cy="340.25" r="3.05" fill="none" stroke="#168c8c" stroke-width="2.4"/>
<circle cx="567.50" cy="340.05" r="3.05" fill="none" stroke="#168c8c" stroke-width="2.4"/>
<circle cx="570.60" cy="339.45" r="3.05" fill="none" stroke="#168c8c" stroke-width="2.4"/>
<circle cx="571.65" cy="339.25" r="3.05" fill="none" stroke="#168c8c" stroke-width="2.4"/>
<circle cx="572.70" cy="339.04" r="3.05" fill="none" stroke="#168c8c" stroke-width="2.4"/>
<circle cx="575.80" cy="338.47" r="3.05" fill="none" stroke="#168c8c" stroke-width="2.4"/>
<circle cx="576.85" cy="338.29" r="3.05" fill="none" stroke="#168c8c" stroke-width="2.4"/>
<circle cx="577.90" cy="338.12" r="3.05" fill="none" stroke="#168c8c" stroke-width="2.4"/>
<circle cx="581.00" cy="337.61" r="3.05" fill="none" stroke="#168c8c" stroke-width="2.4"/>
<circle cx="582.05" cy="337.44" r="3.05" fill="none" stroke="#168c8c" stroke-width="2.4"/>
<circle cx="583.10" cy="337.26" r="3.05" fill="none" stroke="#168c8c" stroke-width="2.4"/>
<circle cx="586.20" cy="336.75" r="3.05" fill="none" stroke="#168c8c" stroke-width="2.4"/>
<circle cx="587.25" cy="336.58" r="3.05" fill="none" stroke="#168c8c" stroke-width="2.4"/>
<circle cx="588.30" cy="336.41" r="3.05" fill="none" stroke="#168c8c" stroke-width="2.4"/>
<circle cx="591.40" cy="335.89" r="3.05" fill="none" stroke="#168c8c" stroke-width="2.4"/>
<circle cx="592.45" cy="335.72" r="3.05" fill="none" stroke="#168c8c" stroke-width="2.4"/>
<circle cx="593.50" cy="335.55" r="3.05" fill="none" stroke="#168c8c" stroke-width="2.4"/>
<circle cx="596.60" cy="335.07" r="3.05" fill="none" stroke="#168c8c" stroke-width="2.4"/>
<circle cx="597.65" cy="334.92" r="3.05" fill="none" stroke="#168c8c" stroke-width="2.4"/>
<circle cx="598.70" cy="334.77" r="3.05" fill="none" stroke="#168c8c" stroke-width="2.4"/>
<circle cx="601.80" cy="334.32" r="3.05" fill="none" stroke="#168c8c" stroke-width="2.4"/>
<circle cx="602.85" cy="334.17" r="3.05" fill="none" stroke="#168c8c" stroke-width="2.4"/>
<circle cx="603.90" cy="334.02" r="3.05" fill="none" stroke="#168c8c" stroke-width="2.4"/>
<circle cx="607.00" cy="333.57" r="3.05" fill="none" stroke="#168c8c" stroke-width="2.4"/>
<circle cx="608.05" cy="333.42" r="3.05" fill="none" stroke="#168c8c" stroke-width="2.4"/>
<circle cx="609.10" cy="333.27" r="3.05" fill="none" stroke="#168c8c" stroke-width="2.4"/>
<circle cx="612.20" cy="332.82" r="3.05" fill="none" stroke="#168c8c" stroke-width="2.4"/>
<circle cx="613.25" cy="332.67" r="3.05" fill="none" stroke="#168c8c" stroke-width="2.4"/>
<circle cx="614.30" cy="332.52" r="3.05" fill="none" stroke="#168c8c" stroke-width="2.4"/>
<circle cx="617.40" cy="332.07" r="3.05" fill="none" stroke="#168c8c" stroke-width="2.4"/>
<circle cx="618.45" cy="331.92" r="3.05" fill="none" stroke="#168c8c" stroke-width="2.4"/>
<circle cx="619.50" cy="331.77" r="3.05" fill="none" stroke="#168c8c" stroke-width="2.4"/>
<circle cx="622.60" cy="331.39" r="3.05" fill="none" stroke="#168c8c" stroke-width="2.4"/>
<circle cx="623.65" cy="331.26" r="3.05" fill="none" stroke="#168c8c" stroke-width="2.4"/>
<circle cx="624.70" cy="331.14" r="3.05" fill="none" stroke="#168c8c" stroke-width="2.4"/>
<circle cx="627.80" cy="330.76" r="3.05" fill="none" stroke="#168c8c" stroke-width="2.4"/>
<circle cx="628.85" cy="330.64" r="3.05" fill="none" stroke="#168c8c" stroke-width="2.4"/>
<circle cx="629.90" cy="330.51" r="3.05" fill="none" stroke="#168c8c" stroke-width="2.4"/>
<circle cx="633.00" cy="330.14" r="3.05" fill="none" stroke="#168c8c" stroke-width="2.4"/>
<circle cx="634.05" cy="330.01" r="3.05" fill="none" stroke="#168c8c" stroke-width="2.4"/>
<circle cx="635.10" cy="329.89" r="3.05" fill="none" stroke="#168c8c" stroke-width="2.4"/>
<circle cx="638.20" cy="329.52" r="3.05" fill="none" stroke="#168c8c" stroke-width="2.4"/>
<circle cx="639.25" cy="329.39" r="3.05" fill="none" stroke="#168c8c" stroke-width="2.4"/>
<circle cx="640.30" cy="329.22" r="3.05" fill="none" stroke="#168c8c" stroke-width="2.4"/>
<circle cx="643.40" cy="328.43" r="3.05" fill="none" stroke="#168c8c" stroke-width="2.4"/>
<circle cx="644.45" cy="328.16" r="3.05" fill="none" stroke="#168c8c" stroke-width="2.4"/>
<circle cx="645.50" cy="327.89" r="3.05" fill="none" stroke="#168c8c" stroke-width="2.4"/>
<circle cx="648.60" cy="327.10" r="3.05" fill="none" stroke="#168c8c" stroke-width="2.4"/>
</g>
<line x1="467.7" y1="419.5" x2="451.92" y2="399.71" stroke="#222" stroke-width="1.0"/>
<polygon points="448.8,395.8 454.57,398.87 450.51,402.11" fill="#222"/>
<line x1="623.6" y1="364.2" x2="607.75" y2="344.68" stroke="#222" stroke-width="1.0"/>
<polygon points="604.6,340.8 610.40,343.82 606.36,347.10" fill="#222"/>
<text x="462.5" y="432.9" font-family="Liberation Serif, serif" font-size="12" font-weight="normal" text-anchor="start" fill="#333" ><tspan dy="0.00" font-size="12.00" >For </tspan><tspan dy="0.00" font-size="12.00" >τ</tspan><tspan dy="3.36" font-size="8.16" >eff</tspan><tspan dy="-3.36" font-size="12.00" > = 56 sec with β = 0.87</tspan></text>
<text x="582.3" y="377" font-family="Liberation Serif, serif" font-size="11.6" font-weight="normal" text-anchor="start" fill="#333" ><tspan dy="0.00" font-size="11.60" >For </tspan><tspan dy="0.00" font-size="11.60" >τ</tspan><tspan dy="3.25" font-size="7.89" >eff</tspan><tspan dy="-3.25" font-size="11.60" > = 4507 sec</tspan></text>
<text x="608" y="390.5" font-family="Liberation Serif, serif" font-size="12" font-weight="normal" text-anchor="start" fill="#333" ><tspan dy="0.00" font-size="12.00" >with β = 0.11</tspan></text>
<text x="402.5" y="471" font-family="Liberation Serif, serif" font-size="11.7" font-weight="bold" text-anchor="start" fill="#111" ><tspan dy="0.00" font-size="11.70" >Y</tspan><tspan dy="3.28" font-size="7.96" >RN</tspan><tspan dy="-3.28" font-size="11.70" > = G</tspan><tspan dy="3.28" font-size="7.96" >DS</tspan><tspan dy="-3.28" font-size="11.70" > normalized with G</tspan><tspan dy="3.28" font-size="7.96" >DS_Max</tspan><tspan dy="-3.28" font-size="11.70" > = 2.7×10</tspan><tspan dy="-4.45" font-size="7.96" >-7</tspan><tspan dy="4.45" font-size="12.00" font-weight="normal"> Ω</tspan><tspan dy="-4.45" font-size="7.96" >-1</tspan></text>
<rect x="184.7" y="539.3" width="362.50000000000006" height="207.5" fill="none" stroke="#242424" stroke-width="1.35"/>
<line x1="257.20" y1="746.8" x2="257.20" y2="742.5" stroke="#242424" stroke-width="1.1"/>
<line x1="257.20" y1="539.3" x2="257.20" y2="543.5999999999999" stroke="#242424" stroke-width="1.1"/>
<line x1="329.70" y1="746.8" x2="329.70" y2="742.5" stroke="#242424" stroke-width="1.1"/>
<line x1="329.70" y1="539.3" x2="329.70" y2="543.5999999999999" stroke="#242424" stroke-width="1.1"/>
<line x1="402.20" y1="746.8" x2="402.20" y2="742.5" stroke="#242424" stroke-width="1.1"/>
<line x1="402.20" y1="539.3" x2="402.20" y2="543.5999999999999" stroke="#242424" stroke-width="1.1"/>
<line x1="474.70" y1="746.8" x2="474.70" y2="742.5" stroke="#242424" stroke-width="1.1"/>
<line x1="474.70" y1="539.3" x2="474.70" y2="543.5999999999999" stroke="#242424" stroke-width="1.1"/>
<line x1="220.95" y1="746.8" x2="220.95" y2="744.3" stroke="#242424" stroke-width="1.1"/>
<line x1="220.95" y1="539.3" x2="220.95" y2="541.8" stroke="#242424" stroke-width="1.1"/>
<line x1="293.45" y1="746.8" x2="293.45" y2="744.3" stroke="#242424" stroke-width="1.1"/>
<line x1="293.45" y1="539.3" x2="293.45" y2="541.8" stroke="#242424" stroke-width="1.1"/>
<line x1="365.95" y1="746.8" x2="365.95" y2="744.3" stroke="#242424" stroke-width="1.1"/>
<line x1="365.95" y1="539.3" x2="365.95" y2="541.8" stroke="#242424" stroke-width="1.1"/>
<line x1="438.45" y1="746.8" x2="438.45" y2="744.3" stroke="#242424" stroke-width="1.1"/>
<line x1="438.45" y1="539.3" x2="438.45" y2="541.8" stroke="#242424" stroke-width="1.1"/>
<line x1="510.95" y1="746.8" x2="510.95" y2="744.3" stroke="#242424" stroke-width="1.1"/>
<line x1="510.95" y1="539.3" x2="510.95" y2="541.8" stroke="#242424" stroke-width="1.1"/>
<line x1="184.7" y1="677.63" x2="189.0" y2="677.63" stroke="#242424" stroke-width="1.1"/>
<line x1="547.2" y1="677.63" x2="542.9000000000001" y2="677.63" stroke="#242424" stroke-width="1.1"/>
<line x1="184.7" y1="608.47" x2="189.0" y2="608.47" stroke="#242424" stroke-width="1.1"/>
<line x1="547.2" y1="608.47" x2="542.9000000000001" y2="608.47" stroke="#242424" stroke-width="1.1"/>
<line x1="184.7" y1="712.22" x2="187.2" y2="712.22" stroke="#242424" stroke-width="1.1"/>
<line x1="547.2" y1="712.22" x2="544.7" y2="712.22" stroke="#242424" stroke-width="1.1"/>
<line x1="184.7" y1="643.05" x2="187.2" y2="643.05" stroke="#242424" stroke-width="1.1"/>
<line x1="547.2" y1="643.05" x2="544.7" y2="643.05" stroke="#242424" stroke-width="1.1"/>
<line x1="184.7" y1="573.88" x2="187.2" y2="573.88" stroke="#242424" stroke-width="1.1"/>
<line x1="547.2" y1="573.88" x2="544.7" y2="573.88" stroke="#242424" stroke-width="1.1"/>
<text x="184.7" y="762" font-family="Liberation Serif, serif" font-size="12.2" font-weight="bold" text-anchor="middle" fill="#111" ><tspan dy="0.00" font-size="12.20" >0</tspan></text>
<text x="257.2" y="762" font-family="Liberation Serif, serif" font-size="12.2" font-weight="bold" text-anchor="middle" fill="#111" ><tspan dy="0.00" font-size="12.20" >100</tspan></text>
<text x="329.70000000000005" y="762" font-family="Liberation Serif, serif" font-size="12.2" font-weight="bold" text-anchor="middle" fill="#111" ><tspan dy="0.00" font-size="12.20" >200</tspan></text>
<text x="402.20000000000005" y="762" font-family="Liberation Serif, serif" font-size="12.2" font-weight="bold" text-anchor="middle" fill="#111" ><tspan dy="0.00" font-size="12.20" >300</tspan></text>
<text x="474.70000000000005" y="762" font-family="Liberation Serif, serif" font-size="12.2" font-weight="bold" text-anchor="middle" fill="#111" ><tspan dy="0.00" font-size="12.20" >400</tspan></text>
<text x="547.2" y="762" font-family="Liberation Serif, serif" font-size="12.2" font-weight="bold" text-anchor="middle" fill="#111" ><tspan dy="0.00" font-size="12.20" >500</tspan></text>
<text x="180.3" y="750.5" font-family="Liberation Serif, serif" font-size="11.9" font-weight="bold" text-anchor="end" fill="#111" ><tspan dy="0.00" font-size="11.90" >0.0</tspan></text>
<text x="180.3" y="681.3333333333334" font-family="Liberation Serif, serif" font-size="11.9" font-weight="bold" text-anchor="end" fill="#111" ><tspan dy="0.00" font-size="11.90" >0.1</tspan></text>
<text x="180.3" y="612.1666666666666" font-family="Liberation Serif, serif" font-size="11.9" font-weight="bold" text-anchor="end" fill="#111" ><tspan dy="0.00" font-size="11.90" >0.2</tspan></text>
<text x="180.3" y="543.0" font-family="Liberation Serif, serif" font-size="11.9" font-weight="bold" text-anchor="end" fill="#111" ><tspan dy="0.00" font-size="11.90" >0.3</tspan></text>
<text x="141" y="545.9" font-family="Liberation Serif, serif" font-size="17" font-weight="bold" text-anchor="start" fill="#111" ><tspan dy="0.00" font-size="17.00" >(e)</tspan></text>
<text x="367.4" y="778" font-family="Liberation Serif, serif" font-size="14.5" font-weight="bold" text-anchor="middle" fill="#111" ><tspan dy="0.00" font-size="14.50" >time [s]</tspan></text>
<text x="0" y="0" font-family="Liberation Serif, serif" font-size="15" font-weight="bold" text-anchor="middle" fill="#111" transform="translate(155,643.4) rotate(-90)"><tspan dy="0.00" font-size="15.00" >G</tspan><tspan dy="4.20" font-size="10.20" >DS</tspan><tspan dy="-4.20" font-size="15.00" > [μΩ</tspan><tspan dy="-5.70" font-size="10.20" >-1</tspan><tspan dy="5.70" font-size="15.00" >]</tspan></text>
<polyline points="185.00,706.68 187.18,709.71 189.35,712.04 191.53,714.08 193.70,715.92 195.88,717.61 198.05,719.16 200.22,720.60 202.40,721.94 204.57,723.19 206.75,724.36 208.93,725.46 211.10,726.49 213.28,727.47 215.45,728.38 217.62,729.25 219.80,730.07 221.98,730.84 224.15,731.58 226.33,732.27 228.50,732.93 230.68,733.55 232.85,734.14 235.03,734.71 237.20,735.24 239.38,735.75 241.55,736.23 243.73,736.69 245.90,737.13 248.08,737.55 250.25,737.95 252.43,738.33 254.60,738.69 256.78,739.03 258.95,739.36 261.12,739.67 263.30,739.97 265.48,740.26 267.65,740.53 269.82,740.79 272.00,741.04 274.18,741.28 276.35,741.50 278.53,741.72 280.70,741.93 282.88,742.13 285.05,742.32 287.23,742.50 289.40,742.67 291.57,742.84 293.75,743.00 295.93,743.15 298.10,743.30 300.28,743.44 302.45,743.57 304.62,743.70 306.80,743.82 308.98,743.94 311.15,744.05 313.32,744.16 315.50,744.27 317.68,744.36 319.85,744.46 322.03,744.55 324.20,744.64 326.38,744.72 328.55,744.80 330.73,744.88 332.90,744.96 335.07,745.03 337.25,745.09 339.43,745.16 341.60,745.22 343.78,745.28 345.95,745.34 348.13,745.40 350.30,745.45 352.48,745.50 354.65,745.55 356.82,745.60 359.00,745.64 361.18,745.69 363.35,745.73 365.53,745.77 367.70,745.81 369.88,745.85 372.05,745.88 374.23,745.92 376.40,745.95 378.57,745.98 380.75,746.01 382.93,746.04 385.10,746.07 387.28,746.10 389.45,746.12 391.63,746.15 393.80,746.17 395.98,746.20 398.15,746.22 400.32,746.24 402.50,746.26 404.68,746.28 406.85,746.30 409.03,746.32 411.20,746.33 413.38,746.35 415.55,746.37 417.73,746.38 419.90,746.40 422.07,746.41 424.25,746.43 426.43,746.44 428.60,746.45 430.78,746.47 432.95,746.48 435.13,746.49 437.30,746.50 439.48,746.51 441.65,746.52 443.83,746.53 446.00,746.54 448.18,746.55 450.35,746.56 452.53,746.57 454.70,746.58 456.88,746.59 459.05,746.59 461.23,746.60 463.40,746.61 465.58,746.61 467.75,746.62 469.93,746.63 472.10,746.63 474.28,746.64 476.45,746.64 478.63,746.65 480.80,746.66 482.98,746.66 485.15,746.67 487.33,746.67 489.50,746.68 491.68,746.68 493.85,746.68 496.03,746.69 498.20,746.69 500.38,746.70 502.55,746.70 504.73,746.70 506.90,746.71 509.08,746.71 511.25,746.71 513.42,746.72 515.60,746.72 517.77,746.72 519.95,746.72 522.12,746.73 524.30,746.73 526.48,746.73 528.65,746.73 530.83,746.74 533.00,746.74 535.17,746.74 537.35,746.74 539.52,746.74 541.70,746.75 543.88,746.75 546.05,746.75" fill="none" stroke="#8a8a1a" stroke-width="1.5"/>
<clipPath id="clipE"><rect x="185.3" y="539.3" width="361.9" height="207.5"/></clipPath>
<polyline points="185.00,607.7 185.29,622.87 185.65,623.06 186.01,623.22 186.38,623.37 186.74,623.50 187.10,623.63 187.47,623.75 187.83,623.87 188.19,623.98 188.55,624.09 188.91,624.20 190.37,624.59 191.81,624.94 193.27,625.27 194.72,625.58 196.16,625.86 197.62,626.14 199.06,626.39 200.52,626.64 201.97,626.87 203.41,627.10 204.87,627.32 206.31,627.52 207.77,627.72 209.22,627.92 210.66,628.11 212.12,628.29 213.56,628.46 215.02,628.63 216.47,628.80 217.92,628.96 219.37,629.12 220.81,629.27 222.27,629.42 223.72,629.56 225.17,629.70 226.62,629.84 228.06,629.97 229.52,630.10 233.14,630.41 236.77,630.71 240.39,630.98 244.02,631.25 247.64,631.49 251.27,631.73 254.89,631.95 258.52,632.16 262.14,632.36 265.77,632.55 269.39,632.73 273.02,632.90 276.64,633.06 280.27,633.22 283.89,633.36 287.52,633.50 291.14,633.64 294.77,633.76 298.39,633.88 302.02,634.00 305.64,634.11 309.27,634.21 312.89,634.31 316.52,634.41 320.14,634.50 323.77,634.58 327.39,634.66 331.02,634.74 334.64,634.82 338.27,634.89 341.89,634.96 345.52,635.02 349.14,635.08 352.77,635.14 356.39,635.20 360.02,635.25 363.64,635.30 367.27,635.35 370.89,635.39 374.51,635.44 378.14,635.48 381.76,635.52 385.39,635.56 389.02,635.60 392.64,635.63 396.27,635.66 399.89,635.70 403.52,635.73 407.14,635.75 410.77,635.78 414.39,635.81 418.02,635.83 421.64,635.86 425.27,635.88 428.89,635.90 432.52,635.92 436.14,635.94 439.77,635.96 443.39,635.98 447.02,636.00 450.64,636.01 454.26,636.03 457.89,636.04 461.51,636.06 465.14,636.07 468.76,636.09 472.39,636.10 476.02,636.11 479.64,636.12 483.27,636.13 486.89,636.14 490.52,636.15 494.14,636.16 497.77,636.17 501.39,636.18 505.02,636.19 508.64,636.19 512.26,636.20 515.89,636.21 519.51,636.22 523.14,636.22 526.76,636.23 530.39,636.23 534.01,636.24 537.64,636.25 541.26,636.25 544.89,636.26" fill="none" stroke="#7a2a9a" stroke-width="1.4"/>
<g clip-path="url(#clipE)">
<polyline points="186.39,584.82 186.75,585.43 187.11,586.01 187.47,586.56 187.84,587.10 188.20,587.62 188.56,588.12 188.92,588.61 189.29,589.09 189.65,589.56 190.01,590.01 190.37,590.46 190.74,590.89 191.10,591.32 191.46,591.74 191.82,592.16 192.19,592.56 192.55,592.96 194.00,594.49 195.45,595.93 196.90,597.29 198.35,598.57 199.80,599.80 201.25,600.97 202.70,602.08 204.15,603.15 205.60,604.17 207.05,605.15" fill="none" stroke="#168c8c" stroke-width="6.8" stroke-linecap="round" stroke-linejoin="round"/>
<polyline points="195.45,595.93 196.90,597.29 198.35,598.57 199.80,599.80 201.25,600.97 202.70,602.08 204.15,603.15 205.60,604.17 207.05,605.15 208.50,606.09 209.95,606.99 211.40,607.86 212.85,608.69 214.30,609.49 215.75,610.27 217.20,611.02 218.65,611.74 220.10,612.43 221.55,613.10 223.00,613.75 224.45,614.38 225.90,614.99 227.35,615.57 228.80,616.14 230.25,616.69 231.70,617.22 233.15,617.73 234.60,618.23 236.05,618.71 237.50,619.18 238.95,619.64 240.40,620.08 241.85,620.50 243.30,620.92 244.75,621.32 246.20,621.71 247.65,622.09 249.10,622.45 250.55,622.81 252.00,623.16 253.45,623.49 254.90,623.82 256.35,624.14 257.80,624.44 261.43,625.18 265.05,625.86 268.68,626.50 272.30,627.09 275.93,627.65 279.55,628.17 283.18,628.65 286.80,629.10 290.43,629.53 294.05,629.93 297.68,630.30 301.30,630.65 304.93,630.98 308.55,631.29 312.18,631.57 315.80,631.85 319.43,632.10 323.05,632.34 326.68,632.56 330.30,632.78 333.93,632.98 337.55,633.16 341.18,633.34 344.80,633.51 348.43,633.66 352.05,633.81 355.68,633.95 359.30,634.08 362.93,634.20 366.55,634.32 370.18,634.43 373.80,634.53 377.43,634.63 381.05,634.72 384.68,634.81 388.30,634.89 391.93,634.97 395.55,635.04 399.18,635.11 402.80,635.18 406.43,635.24 410.05,635.30 413.68,635.35 417.30,635.41 420.93,635.45 424.55,635.50 428.18,635.55 431.80,635.59 435.43,635.63 439.05,635.67 442.68,635.70 446.30,635.73 449.93,635.77 453.55,635.80 457.18,635.83 460.80,635.85 464.43,635.88 468.05,635.90 471.68,635.93 475.30,635.95 478.93,635.97 482.55,635.99 486.18,636.01 489.80,636.02 493.43,636.04 497.05,636.06 500.68,636.07 504.30,636.09 507.93,636.10 511.55,636.11 515.18,636.13 518.80,636.14 522.43,636.15 526.05,636.16 529.68,636.17 533.30,636.18 536.93,636.19 540.55,636.20 544.18,636.20 547.80,636.21 551.43,636.22" fill="none" stroke="#168c8c" stroke-width="8.8" stroke-linecap="round" stroke-linejoin="round"/>
<polyline points="186.39,584.82 186.75,585.43 187.11,586.01 187.47,586.56 187.84,587.10 188.20,587.62 188.56,588.12 188.92,588.61 189.29,589.09 189.65,589.56 190.01,590.01 190.37,590.46 190.74,590.89 191.10,591.32 191.46,591.74 191.82,592.16 192.19,592.56 192.55,592.96 194.00,594.49 195.45,595.93 196.90,597.29 198.35,598.57 199.80,599.80 201.25,600.97 202.70,602.08 204.15,603.15 205.60,604.17 207.05,605.15" fill="none" stroke="#c6e6e6" stroke-width="2.6" stroke-linecap="round" stroke-linejoin="round" opacity="0.55"/>
<polyline points="195.45,595.93 196.90,597.29 198.35,598.57 199.80,599.80 201.25,600.97 202.70,602.08 204.15,603.15 205.60,604.17 207.05,605.15 208.50,606.09 209.95,606.99 211.40,607.86 212.85,608.69 214.30,609.49 215.75,610.27 217.20,611.02 218.65,611.74 220.10,612.43 221.55,613.10 223.00,613.75 224.45,614.38 225.90,614.99 227.35,615.57 228.80,616.14 230.25,616.69 231.70,617.22 233.15,617.73 234.60,618.23 236.05,618.71 237.50,619.18 238.95,619.64 240.40,620.08 241.85,620.50 243.30,620.92 244.75,621.32 246.20,621.71 247.65,622.09 249.10,622.45 250.55,622.81 252.00,623.16 253.45,623.49 254.90,623.82 256.35,624.14 257.80,624.44 261.43,625.18 265.05,625.86 268.68,626.50 272.30,627.09 275.93,627.65 279.55,628.17 283.18,628.65 286.80,629.10 290.43,629.53 294.05,629.93 297.68,630.30 301.30,630.65 304.93,630.98 308.55,631.29 312.18,631.57 315.80,631.85 319.43,632.10 323.05,632.34 326.68,632.56 330.30,632.78 333.93,632.98 337.55,633.16 341.18,633.34 344.80,633.51 348.43,633.66 352.05,633.81 355.68,633.95 359.30,634.08 362.93,634.20 366.55,634.32 370.18,634.43 373.80,634.53 377.43,634.63 381.05,634.72 384.68,634.81 388.30,634.89 391.93,634.97 395.55,635.04 399.18,635.11 402.80,635.18 406.43,635.24 410.05,635.30 413.68,635.35 417.30,635.41 420.93,635.45 424.55,635.50 428.18,635.55 431.80,635.59 435.43,635.63 439.05,635.67 442.68,635.70 446.30,635.73 449.93,635.77 453.55,635.80 457.18,635.83 460.80,635.85 464.43,635.88 468.05,635.90 471.68,635.93 475.30,635.95 478.93,635.97 482.55,635.99 486.18,636.01 489.80,636.02 493.43,636.04 497.05,636.06 500.68,636.07 504.30,636.09 507.93,636.10 511.55,636.11 515.18,636.13 518.80,636.14 522.43,636.15 526.05,636.16 529.68,636.17 533.30,636.18 536.93,636.19 540.55,636.20 544.18,636.20 547.80,636.21 551.43,636.22" fill="none" stroke="#c6e6e6" stroke-width="3.4" stroke-linecap="butt" stroke-linejoin="round" opacity="0.55"/>
</g>
<g clip-path="url(#clipE)"><circle cx="186.6" cy="558.8" r="3.1" fill="#168c8c"/></g>
<g clip-path="url(#clipE)"><polyline points="185.00,607.7 185.29,622.87 185.65,623.06 186.01,623.22 186.38,623.37 186.74,623.50 187.10,623.63 187.47,623.75 187.83,623.87 188.19,623.98 188.55,624.09 188.91,624.20 190.37,624.59 191.81,624.94 193.27,625.27 194.72,625.58 196.16,625.86 197.62,626.14 199.06,626.39 200.52,626.64 201.97,626.87 203.41,627.10 204.87,627.32 206.31,627.52 207.77,627.72 209.22,627.92 210.66,628.11 212.12,628.29 213.56,628.46 215.02,628.63 216.47,628.80 217.92,628.96 219.37,629.12 220.81,629.27 222.27,629.42 223.72,629.56 225.17,629.70 226.62,629.84 228.06,629.97 229.52,630.10 233.14,630.41 236.77,630.71 240.39,630.98 244.02,631.25 247.64,631.49 251.27,631.73 254.89,631.95 258.52,632.16 262.14,632.36 265.77,632.55 269.39,632.73 273.02,632.90 276.64,633.06 280.27,633.22 283.89,633.36 287.52,633.50 291.14,633.64 294.77,633.76 298.39,633.88 302.02,634.00 305.64,634.11 309.27,634.21 312.89,634.31 316.52,634.41 320.14,634.50 323.77,634.58 327.39,634.66 331.02,634.74 334.64,634.82 338.27,634.89 341.89,634.96 345.52,635.02 349.14,635.08 352.77,635.14 356.39,635.20 360.02,635.25 363.64,635.30 367.27,635.35 370.89,635.39 374.51,635.44 378.14,635.48 381.76,635.52 385.39,635.56 389.02,635.60 392.64,635.63 396.27,635.66 399.89,635.70 403.52,635.73 407.14,635.75 410.77,635.78 414.39,635.81 418.02,635.83 421.64,635.86 425.27,635.88 428.89,635.90 432.52,635.92 436.14,635.94 439.77,635.96 443.39,635.98 447.02,636.00 450.64,636.01 454.26,636.03 457.89,636.04 461.51,636.06 465.14,636.07 468.76,636.09 472.39,636.10 476.02,636.11 479.64,636.12 483.27,636.13 486.89,636.14 490.52,636.15 494.14,636.16 497.77,636.17 501.39,636.18 505.02,636.19 508.64,636.19 512.26,636.20 515.89,636.21 519.51,636.22 523.14,636.22 526.76,636.23 530.39,636.23 534.01,636.24 537.64,636.25 541.26,636.25 544.89,636.26" fill="none" stroke="#5a2a8a" stroke-width="1.5" opacity="0.9"/></g>
<polyline points="185.50,560.5 185.52,583.13 186.24,584.56 186.97,585.78 187.69,586.89 188.42,587.92 189.14,588.90 189.87,589.83 190.59,590.72 191.32,591.58 192.04,592.40 192.77,593.19 193.49,593.96 194.22,594.71 194.94,595.43 195.67,596.14 196.39,596.82 197.12,597.48 197.84,598.13 198.57,598.76 199.29,599.38 200.02,599.98 200.74,600.56 201.47,601.14 202.19,601.70 202.92,602.24 203.64,602.78 204.37,603.30 205.09,603.82 205.82,604.32 206.54,604.81 207.27,605.29 209.44,606.68 211.62,607.98 213.79,609.22 215.97,610.38 218.14,611.49 220.32,612.53 222.49,613.53 224.67,614.47 226.84,615.37 229.02,616.22 231.19,617.03 233.37,617.81 235.54,618.55 237.72,619.25 239.89,619.92 242.07,620.57 244.24,621.18 246.42,621.77 248.59,622.33 250.77,622.86 252.94,623.37 255.12,623.87 257.29,624.34 259.47,624.79 261.64,625.22 263.82,625.63 265.99,626.03 268.17,626.41 270.34,626.78 272.52,627.13 274.69,627.46 276.87,627.78 279.04,628.09 281.22,628.39 283.39,628.68 285.57,628.95 287.74,629.22 289.92,629.47 292.09,629.72 294.27,629.95 296.44,630.18 298.62,630.39 300.79,630.60 302.97,630.80 305.14,631.00 307.32,631.18 309.49,631.36 311.67,631.53 313.84,631.70 316.02,631.86 318.19,632.02 320.37,632.16 322.54,632.31 324.72,632.44 326.89,632.58 329.07,632.71 331.24,632.83 333.42,632.95 335.59,633.06 337.77,633.17 339.94,633.28 342.12,633.38 344.29,633.48 346.47,633.58 348.64,633.67 350.82,633.76 352.99,633.85 355.17,633.93 357.34,634.01 359.52,634.09 361.69,634.16 363.87,634.23 366.04,634.30 368.22,634.37 370.39,634.43 372.57,634.50 374.74,634.56 376.92,634.62 379.09,634.67 381.27,634.73 383.44,634.78 385.62,634.83 387.79,634.88 389.97,634.93 392.14,634.97 394.32,635.02 396.49,635.06 398.67,635.10 400.84,635.14 403.02,635.18 405.19,635.22 407.37,635.25 409.54,635.29 411.72,635.32 413.89,635.36 416.07,635.39 418.24,635.42 420.42,635.45 422.59,635.48 424.77,635.50 426.94,635.53 429.12,635.56 431.29,635.58 433.47,635.61 435.64,635.63 437.82,635.65 439.99,635.67 442.17,635.70 444.34,635.72 446.52,635.74 448.69,635.76 450.87,635.77 453.04,635.79 455.22,635.81 457.39,635.83 459.57,635.84 461.74,635.86 463.92,635.87 466.09,635.89 468.27,635.90 470.44,635.92 472.62,635.93 474.79,635.94 476.97,635.96 479.14,635.97 481.32,635.98 483.49,635.99 485.67,636.00 487.84,636.01 490.02,636.03 492.19,636.04 494.37,636.05 496.54,636.05 498.72,636.06 500.89,636.07 503.07,636.08 505.24,636.09 507.42,636.10 509.59,636.11 511.77,636.11 513.94,636.12 516.12,636.13 518.29,636.14 520.47,636.14 522.64,636.15 524.82,636.15 526.99,636.16 529.17,636.17 531.34,636.17 533.52,636.18 535.69,636.18 537.87,636.19 540.04,636.19 542.22,636.20 544.39,636.20 546.57,636.21" fill="none" stroke="#c83838" stroke-width="1.8"/>
<text x="201.8" y="557.9" font-family="Liberation Serif, serif" font-size="11.6" font-weight="bold" text-anchor="start" fill="#111" word-spacing="1.3"><tspan dy="0.00" font-size="11.60" >Recovery of post-IS G</tspan><tspan dy="3.25" font-size="7.89" >DS</tspan></text>
<text x="201.8" y="571.5" font-family="Liberation Serif, serif" font-size="11.6" font-weight="bold" text-anchor="start" fill="#111" word-spacing="0.5"><tspan dy="0.00" font-size="11.60" >modeled with two SEFs: F</tspan><tspan dy="3.25" font-size="7.89" >1</tspan><tspan dy="-3.25" font-size="11.60" > and F</tspan><tspan dy="3.25" font-size="7.89" >2</tspan></text>
<rect x="474.4" y="553" width="4" height="4" fill="none" stroke="#111" stroke-width="1.3"/>
<text x="487.4" y="557.7" font-family="Liberation Serif, serif" font-size="11.5" font-weight="bold" text-anchor="start" fill="#111" ><tspan dy="0.00" font-size="11.50" >measured</tspan></text>
<line x1="464" y1="574.7" x2="480.4" y2="574.7" stroke="#e02020" stroke-width="1.5"/>
<text x="487.4" y="579" font-family="Liberation Serif, serif" font-size="12" font-weight="normal" text-anchor="start" fill="#222" font-style="italic"><tspan dy="0.00" font-size="12.00" >F</tspan><tspan dy="3.36" font-size="8.20" font-style="normal">1</tspan><tspan dy="-3.36" font-size="12.00" font-style="normal"> + </tspan><tspan dy="0.00" font-size="12.00" >F</tspan><tspan dy="3.36" font-size="8.20" font-style="normal">2</tspan></text>
<line x1="352.3" y1="675.8" x2="369.1" y2="675.8" stroke="#7a2a9a" stroke-width="1.5"/>
<line x1="352.3" y1="710.2" x2="369.1" y2="710.2" stroke="#8a8a1a" stroke-width="1.5"/>
<text x="376.6" y="677" font-family="Liberation Serif, serif" font-size="10.5" font-weight="normal" text-anchor="start" fill="#3a3a3a" font-style="italic"><tspan dy="0.00" font-size="10.50" >F</tspan><tspan dy="2.94" font-size="7.00" font-style="normal">1</tspan></text>
<text x="389" y="677" font-family="Liberation Serif, serif" font-size="10.5" font-weight="normal" text-anchor="start" fill="#3a3a3a" ><tspan dy="0.00" font-size="10.50" >=</tspan></text>
<text x="397" y="677" font-family="Liberation Serif, serif" font-size="10.5" font-weight="normal" text-anchor="start" fill="#3a3a3a" font-style="italic"><tspan dy="0.00" font-size="10.50" >A</tspan><tspan dy="2.94" font-size="7.00" font-style="normal">1</tspan></text>
<text x="406.2" y="677" font-family="Liberation Serif, serif" font-size="10.5" font-weight="normal" text-anchor="start" fill="#3a3a3a" ><tspan dy="0.00" font-size="10.50" >exp</tspan></text>
<path d="M424.6,659.4 Q417.6,675 424.6,690.8" fill="none" stroke="#3a3a3a" stroke-width="0.9"/>
<path d="M456.2,659.4 Q463.2,675 456.2,690.8" fill="none" stroke="#3a3a3a" stroke-width="0.9"/>
<line x1="425" y1="673.8" x2="428.6" y2="673.8" stroke="#3a3a3a" stroke-width="0.7"/>
<path d="M434.2,663 Q429.2,674.5 434.2,686.4" fill="none" stroke="#3a3a3a" stroke-width="0.8"/>
<path d="M446,663 Q451,674.5 446,686.4" fill="none" stroke="#3a3a3a" stroke-width="0.8"/>
<text x="440" y="672.4" font-family="Liberation Serif, serif" font-size="9" font-weight="normal" text-anchor="middle" fill="#3a3a3a" font-style="italic"><tspan dy="0.00" font-size="9.00" >t</tspan></text>
<line x1="436.5" y1="674.8" x2="444.5" y2="674.8" stroke="#3a3a3a" stroke-width="0.5"/>
<text x="441" y="686" font-family="Liberation Serif, serif" font-size="9" font-weight="normal" text-anchor="middle" fill="#3a3a3a" font-style="italic"><tspan dy="0.00" font-size="9.00" >τ</tspan><tspan dy="2.52" font-size="6.00" font-style="normal">1</tspan></text>
<text x="451.2" y="667" font-family="Liberation Serif, serif" font-size="6.5" font-weight="normal" text-anchor="start" fill="#3a3a3a" font-style="italic"><tspan dy="0.00" font-size="6.50" >β</tspan><tspan dy="1.82" font-size="4.50" >1</tspan></text>
<text x="470.3" y="677" font-family="Liberation Serif, serif" font-size="10.5" font-weight="normal" text-anchor="start" fill="#3a3a3a" font-style="italic"><tspan dy="0.00" font-size="10.50" >for</tspan></text>
<path d="M488.6,665.0 Q486.3,665.0 486.6,670.5 Q486.9,675.5 484.8,675.5 Q486.9,675.5 486.6,680.5 Q486.3,686.0 488.6,686.0" fill="none" stroke="#3a3a3a" stroke-width="0.8"/>
<text x="488.9" y="670.2" font-family="Liberation Serif, serif" font-size="9" font-weight="normal" text-anchor="start" fill="#3a3a3a" ><tspan dy="0.00" font-size="9.00" font-style="italic">τ</tspan><tspan dy="2.52" font-size="6.12" >1</tspan><tspan dy="-2.52" font-size="9.00" > = 56 sec</tspan></text>
<text x="488.9" y="683" font-family="Liberation Serif, serif" font-size="9" font-weight="normal" text-anchor="start" fill="#3a3a3a" ><tspan dy="0.00" font-size="9.00" font-style="italic">β</tspan><tspan dy="2.52" font-size="6.12" >1</tspan><tspan dy="-2.52" font-size="9.00" > = 0.87</tspan></text>
<text x="376.6" y="712.6" font-family="Liberation Serif, serif" font-size="10.5" font-weight="normal" text-anchor="start" fill="#3a3a3a" font-style="italic"><tspan dy="0.00" font-size="10.50" >F</tspan><tspan dy="2.94" font-size="7.00" font-style="normal">2</tspan></text>
<text x="389" y="712.6" font-family="Liberation Serif, serif" font-size="10.5" font-weight="normal" text-anchor="start" fill="#3a3a3a" ><tspan dy="0.00" font-size="10.50" >=</tspan></text>
<text x="397" y="712.6" font-family="Liberation Serif, serif" font-size="10.5" font-weight="normal" text-anchor="start" fill="#3a3a3a" font-style="italic"><tspan dy="0.00" font-size="10.50" >A</tspan><tspan dy="2.94" font-size="7.00" font-style="normal">2</tspan></text>
<text x="406.2" y="712.6" font-family="Liberation Serif, serif" font-size="10.5" font-weight="normal" text-anchor="start" fill="#3a3a3a" ><tspan dy="0.00" font-size="10.50" >exp</tspan></text>
<path d="M424.6,695.0 Q417.6,710.6 424.6,726.4" fill="none" stroke="#3a3a3a" stroke-width="0.9"/>
<path d="M456.2,695.0 Q463.2,710.6 456.2,726.4" fill="none" stroke="#3a3a3a" stroke-width="0.9"/>
<line x1="425" y1="709.4" x2="428.6" y2="709.4" stroke="#3a3a3a" stroke-width="0.7"/>
<path d="M434.2,698.6 Q429.2,710.1 434.2,722.0" fill="none" stroke="#3a3a3a" stroke-width="0.8"/>
<path d="M446,698.6 Q451,710.1 446,722.0" fill="none" stroke="#3a3a3a" stroke-width="0.8"/>
<text x="440" y="708.0" font-family="Liberation Serif, serif" font-size="9" font-weight="normal" text-anchor="middle" fill="#3a3a3a" font-style="italic"><tspan dy="0.00" font-size="9.00" >t</tspan></text>
<line x1="436.5" y1="710.4" x2="444.5" y2="710.4" stroke="#3a3a3a" stroke-width="0.5"/>
<text x="441" y="721.6" font-family="Liberation Serif, serif" font-size="9" font-weight="normal" text-anchor="middle" fill="#3a3a3a" font-style="italic"><tspan dy="0.00" font-size="9.00" >τ</tspan><tspan dy="2.52" font-size="6.00" font-style="normal">2</tspan></text>
<text x="451.2" y="702.6" font-family="Liberation Serif, serif" font-size="6.5" font-weight="normal" text-anchor="start" fill="#3a3a3a" font-style="italic"><tspan dy="0.00" font-size="6.50" >β</tspan><tspan dy="1.82" font-size="4.50" >2</tspan></text>
<text x="470.3" y="712.6" font-family="Liberation Serif, serif" font-size="10.5" font-weight="normal" text-anchor="start" fill="#3a3a3a" font-style="italic"><tspan dy="0.00" font-size="10.50" >for</tspan></text>
<path d="M488.6,700.6 Q486.3,700.6 486.6,706.1 Q486.9,711.1 484.8,711.1 Q486.9,711.1 486.6,716.1 Q486.3,721.6 488.6,721.6" fill="none" stroke="#3a3a3a" stroke-width="0.8"/>
<text x="488.9" y="705.8000000000001" font-family="Liberation Serif, serif" font-size="9" font-weight="normal" text-anchor="start" fill="#3a3a3a" ><tspan dy="0.00" font-size="9.00" font-style="italic">τ</tspan><tspan dy="2.52" font-size="6.12" >2</tspan><tspan dy="-2.52" font-size="9.00" > = 4507sec</tspan></text>
<text x="488.9" y="718.6" font-family="Liberation Serif, serif" font-size="9" font-weight="normal" text-anchor="start" fill="#3a3a3a" ><tspan dy="0.00" font-size="9.00" font-style="italic">β</tspan><tspan dy="2.52" font-size="6.12" >2</tspan><tspan dy="-2.52" font-size="9.00" > = 0.11</tspan></text></svg>
</body></html>
